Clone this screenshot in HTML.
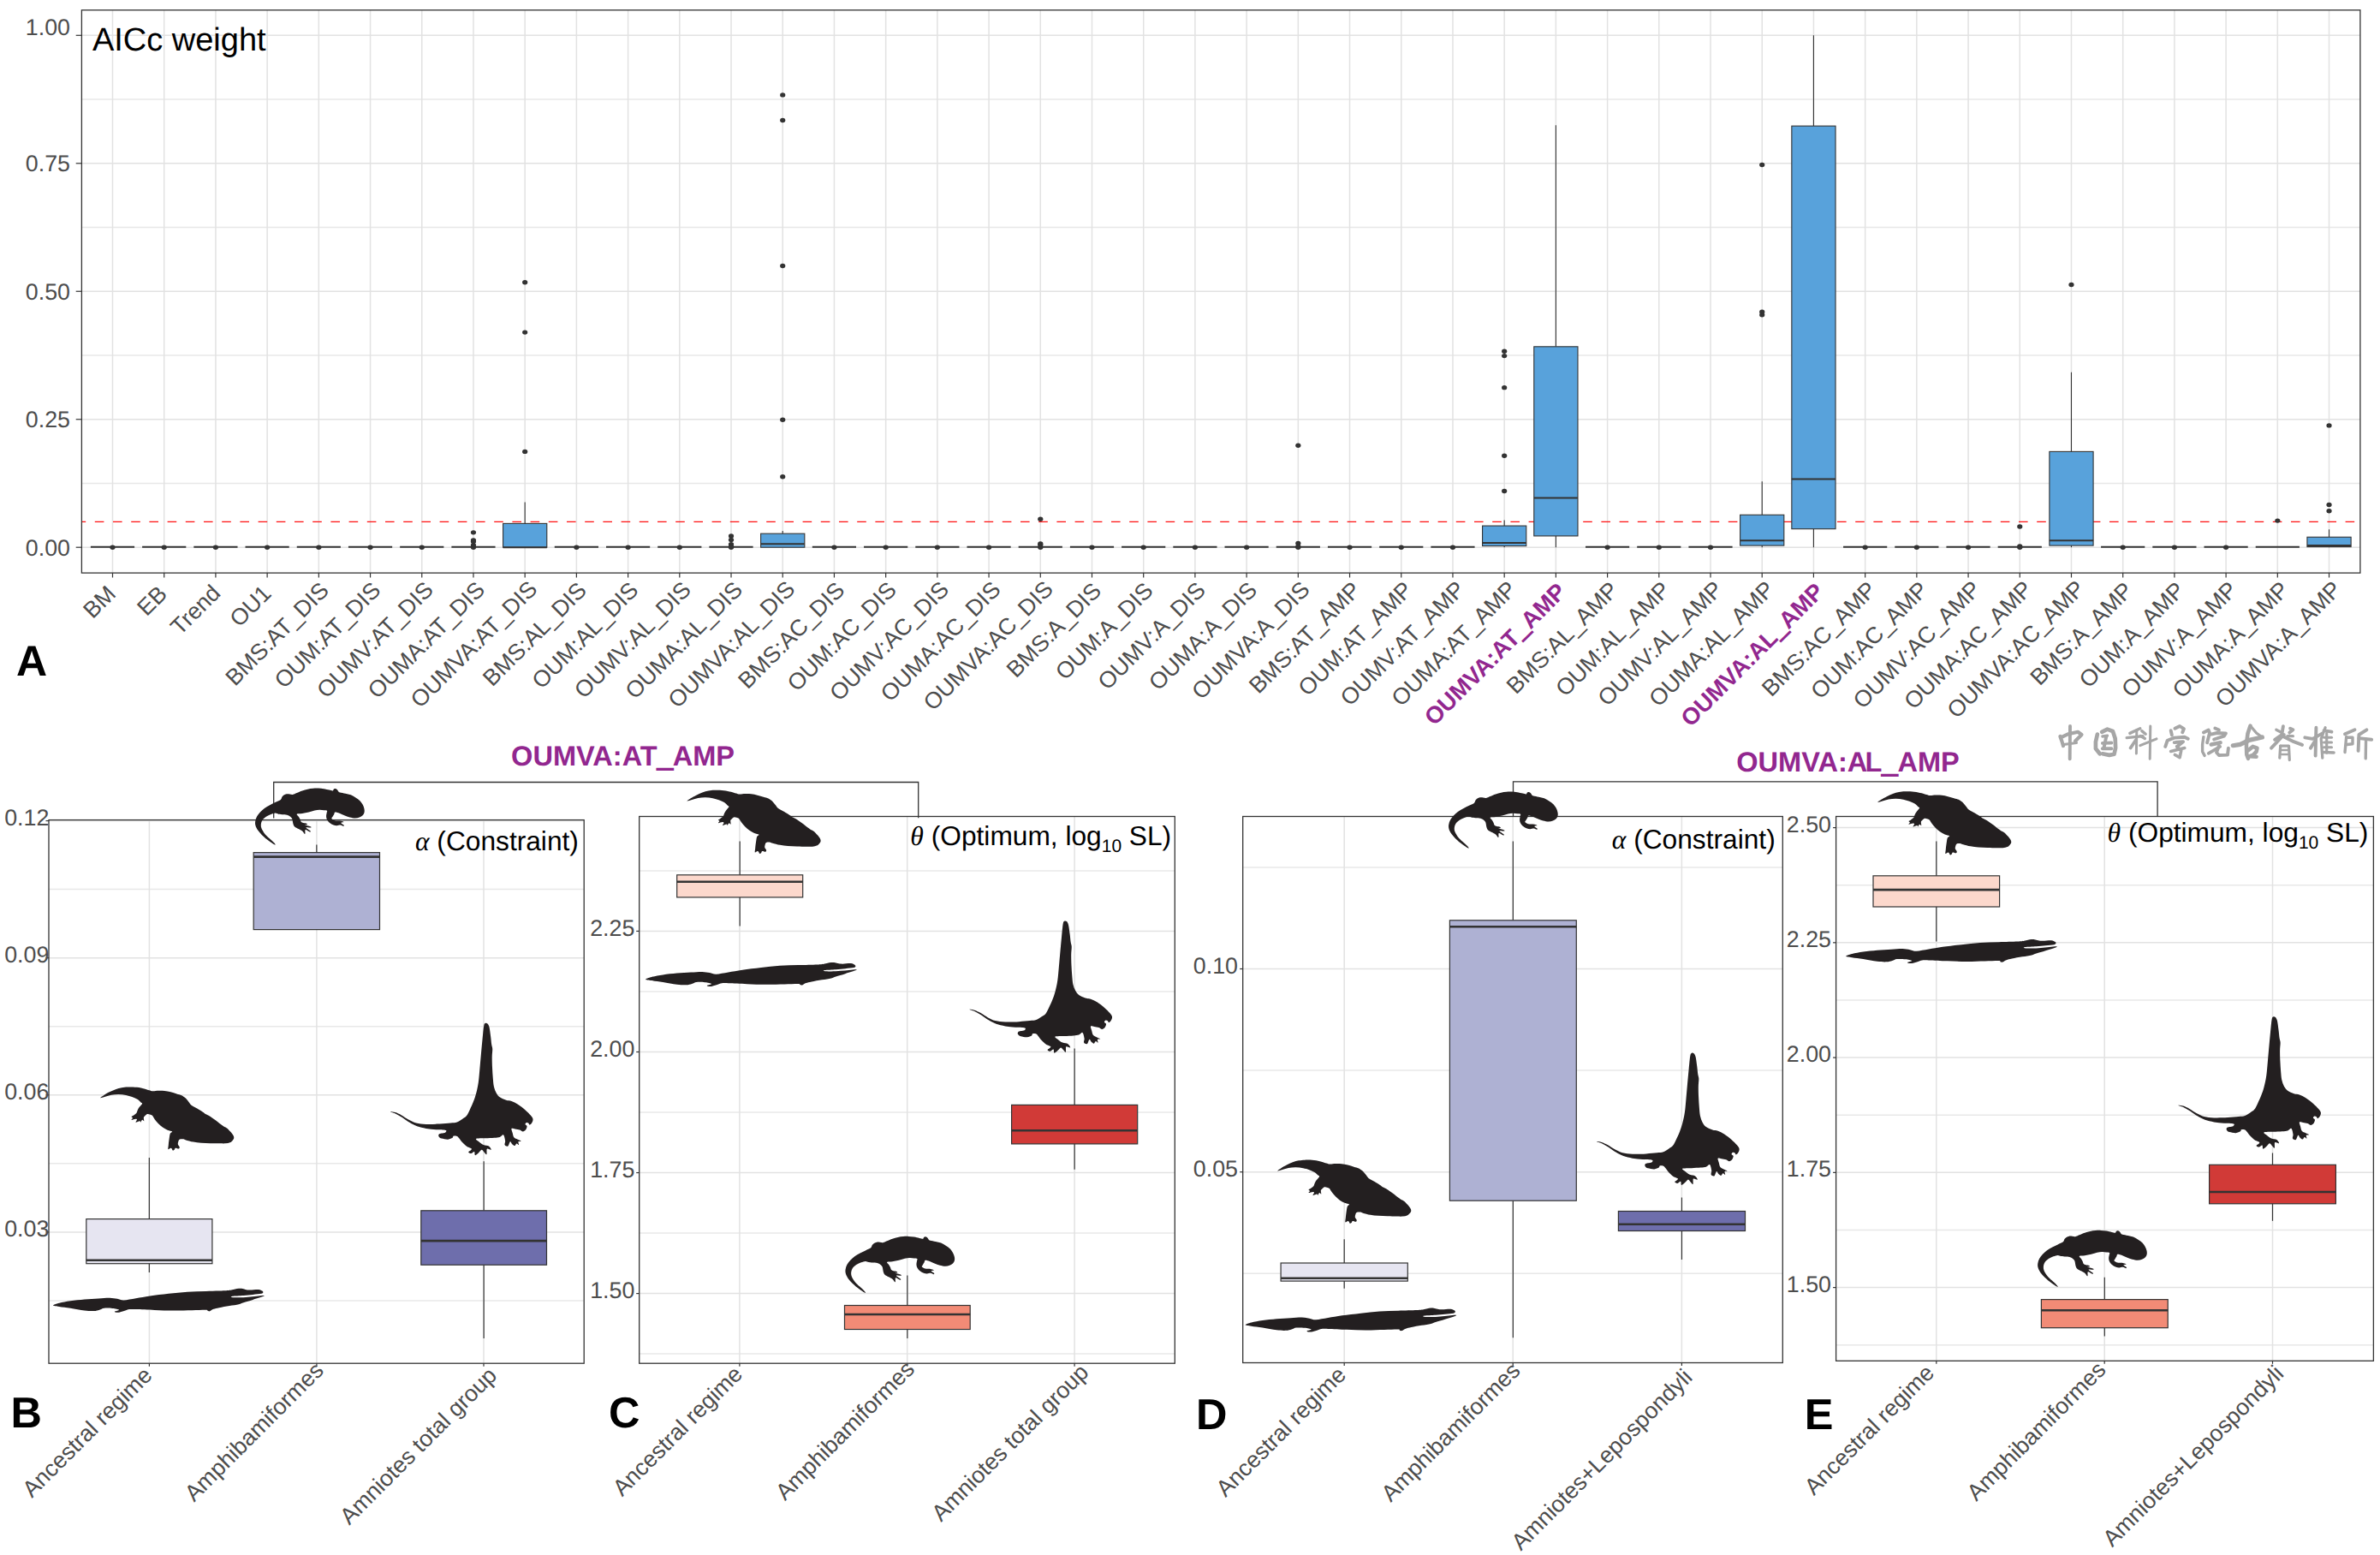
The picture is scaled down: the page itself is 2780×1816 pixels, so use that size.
<!DOCTYPE html><html><head><meta charset="utf-8"><style>html,body{margin:0;padding:0;background:#fff;overflow:hidden;}svg{display:block}text{text-rendering:geometricPrecision}</style></head><body>
<svg width="2780" height="1816" viewBox="0 0 2780 1816">
<defs><path id="sal" d="M22.68,66.17C21.84,65.75 19.85,64.44 18.27,63.34C16.69,62.24 15.01,61.03 13.23,59.56C11.44,58.09 9.24,56.2 7.56,54.51C5.88,52.83 4.35,51.26 3.14,49.47C1.94,47.69 0.83,45.59 0.31,43.8C-0.22,42.01 -0.27,40.54 -0.01,38.76C0.26,36.97 0.94,34.87 1.88,33.09C2.83,31.3 4.19,29.62 5.67,28.04C7.14,26.47 8.82,25 10.71,23.63C12.6,22.27 14.91,21.01 17.01,19.85C19.11,18.7 21.21,17.75 23.31,16.7C25.41,15.65 28.3,14.6 29.61,13.55C30.93,12.5 30.56,11.29 31.19,10.4C31.82,9.51 32.5,8.77 33.4,8.19C34.29,7.61 35.39,7.11 36.55,6.93C37.7,6.75 39.12,7.02 40.33,7.12C41.54,7.23 42.43,7.8 43.79,7.56C45.16,7.32 46.68,6.41 48.52,5.67C50.36,4.94 52.72,3.89 54.82,3.15C56.92,2.41 59.03,1.73 61.13,1.26C63.23,0.79 65.33,0.49 67.43,0.31C69.53,0.14 71.63,0.1 73.73,0.19C75.83,0.27 77.93,0.48 80.03,0.82C82.13,1.15 84.6,1.82 86.34,2.2C88.07,2.59 89.59,3.26 90.43,3.15C91.27,3.05 90.91,1.99 91.38,1.57C91.85,1.15 92.59,0.63 93.27,0.63C93.95,0.63 94.84,1.05 95.47,1.57C96.1,2.1 96.47,3.2 97.05,3.78C97.63,4.36 97.58,4.62 98.94,5.04C100.31,5.46 103.14,5.83 105.24,6.3C107.34,6.77 109.55,7.09 111.55,7.88C113.54,8.66 115.43,9.87 117.22,11.03C119,12.18 120.89,13.44 122.26,14.81C123.62,16.18 124.57,17.65 125.41,19.22C126.25,20.8 126.99,22.69 127.3,24.26C127.62,25.84 127.62,27.41 127.3,28.67C126.99,29.94 126.36,30.93 125.41,31.83C124.47,32.72 123.1,33.51 121.63,34.03C120.16,34.56 118.48,34.98 116.59,34.98C114.7,34.98 112.39,34.56 110.28,34.03C108.18,33.51 105.98,32.61 103.98,31.83C101.99,31.04 100.1,29.94 98.31,29.31C96.52,28.67 94.32,27.83 93.27,28.04C92.22,28.25 92.53,29.62 92.01,30.57C91.48,31.51 90.59,32.88 90.12,33.72C89.64,34.56 88.86,34.98 89.17,35.61C89.49,36.24 90.8,37.08 92.01,37.5C93.22,37.92 95.05,37.97 96.42,38.13C97.79,38.29 99.05,38.18 100.2,38.44C101.36,38.71 103.35,39.39 103.35,39.7C103.35,40.02 100.52,39.97 100.2,40.33C99.89,40.7 100.88,41.38 101.46,41.91C102.04,42.44 103.46,43.07 103.67,43.49C103.88,43.91 103.4,44.48 102.72,44.43C102.04,44.38 100.83,43.28 99.57,43.17C98.31,43.07 96.52,43.8 95.16,43.8C93.79,43.8 92.74,43.7 91.38,43.17C90.01,42.65 88.23,41.7 86.97,40.65C85.71,39.6 84.5,38.13 83.81,36.87C83.13,35.61 82.92,34.45 82.87,33.09C82.82,31.72 83.34,29.78 83.5,28.67C83.66,27.57 84.39,26.94 83.81,26.47C83.24,26 81.5,26.02 80.03,25.84C78.56,25.66 76.78,25.35 74.99,25.4C73.21,25.45 71.42,25.71 69.32,26.15C67.22,26.6 64.8,27.47 62.39,28.04C59.97,28.62 57.13,29.25 54.82,29.62C52.51,29.99 49.26,29.67 48.52,30.25C47.79,30.83 49.78,32.09 50.41,33.09C51.04,34.08 51.78,35.19 52.3,36.24C52.83,37.29 52.93,38.65 53.56,39.39C54.19,40.12 55.03,40.33 56.08,40.65C57.13,40.96 59.13,40.96 59.87,41.28C60.6,41.59 60.81,42.22 60.5,42.54C60.18,42.86 57.34,42.8 57.98,43.17C58.61,43.54 63.12,44.27 64.28,44.75C65.43,45.22 65.75,45.8 64.91,46.01C64.07,46.22 59.34,45.38 59.24,46.01C59.13,46.64 63.54,48.95 64.28,49.79C65.01,50.63 64.59,51.26 63.65,51.05C62.7,50.84 59.5,48.21 58.61,48.53C57.71,48.84 58.5,52.15 58.29,52.94C58.08,53.73 57.92,53.73 57.34,53.25C56.77,52.78 55.98,51.05 54.82,50.1C53.67,49.16 51.88,48.42 50.41,47.58C48.94,46.74 47.05,46.11 46,45.06C44.95,44.01 44.53,42.54 44.11,41.28C43.69,40.02 43.79,38.6 43.48,37.5C43.16,36.4 43.06,35.61 42.22,34.66C41.38,33.72 40.01,32.46 38.44,31.83C36.86,31.2 34.66,31.14 32.77,30.88C30.87,30.62 28.67,30.53 27.09,30.25C25.52,29.97 24.78,29.13 23.31,29.18C21.84,29.23 20.06,29.86 18.27,30.57C16.48,31.27 14.28,32.25 12.6,33.4C10.92,34.56 9.18,35.98 8.19,37.5C7.19,39.02 6.77,40.96 6.61,42.54C6.45,44.12 6.66,45.38 7.24,46.95C7.82,48.53 8.97,50.42 10.08,51.99C11.18,53.57 12.39,54.93 13.86,56.41C15.33,57.88 17.53,59.56 18.9,60.82C20.27,62.08 21.32,63.13 22.05,63.97C22.79,64.81 23.21,65.49 23.31,65.86C23.42,66.23 23.52,66.59 22.68,66.17Z"/><path id="tem" d="M0.04,12.54C-0.2,12.25 2.54,10.46 4.33,9.33C6.11,8.2 8.5,6.89 10.76,5.76C13.02,4.63 15.52,3.41 17.9,2.54C20.28,1.67 22.66,1 25.04,0.54C27.42,0.09 29.21,-0.12 32.19,-0.17C35.16,-0.22 39.69,-0.08 42.9,0.26C46.11,0.59 49.09,1.27 51.47,1.83C53.85,2.39 55.52,3.14 57.19,3.61C58.85,4.09 59.69,4.6 61.47,4.69C63.26,4.77 65.64,4.17 67.9,4.11C70.16,4.05 72.66,4.05 75.04,4.33C77.42,4.6 79.8,5.16 82.19,5.76C84.57,6.35 87.19,7.25 89.33,7.9C91.47,8.55 93.26,8.79 95.04,9.69C96.83,10.58 98.61,11.95 100.04,13.26C101.47,14.57 102.54,16.23 103.61,17.54C104.69,18.85 105.28,20.1 106.47,21.11C107.66,22.13 109.09,22.66 110.76,23.61C112.42,24.57 114.8,25.82 116.47,26.83C118.14,27.84 119.69,28.91 120.76,29.69C121.83,30.46 121.59,30.7 122.9,31.47C124.21,32.25 126.59,33.08 128.61,34.33C130.64,35.58 132.9,37.36 135.04,38.97C137.19,40.58 139.8,42.72 141.47,43.97C143.14,45.22 143.97,45.82 145.04,46.47C146.11,47.13 146.71,46.95 147.9,47.9C149.09,48.85 150.94,50.76 152.19,52.19C153.44,53.61 154.75,55.22 155.4,56.47C156.05,57.72 156.29,58.67 156.11,59.69C155.94,60.7 155.1,61.71 154.33,62.54C153.55,63.38 152.78,64.15 151.47,64.69C150.16,65.22 148.5,65.58 146.47,65.76C144.45,65.94 142.3,65.79 139.33,65.76C136.35,65.72 132.19,65.66 128.61,65.54C125.04,65.42 121.23,65.3 117.9,65.04C114.57,64.78 111.59,64.51 108.61,63.97C105.64,63.44 101.95,62.36 100.04,61.83C98.14,61.29 98.44,60.88 97.19,60.76C95.94,60.64 93.55,60.58 92.54,61.11C91.53,61.65 91.41,63.02 91.11,63.97C90.82,64.92 90.52,65.88 90.76,66.83C91,67.78 92.36,68.85 92.54,69.69C92.72,70.52 92.6,71.59 91.83,71.83C91.05,72.07 88.79,70.88 87.9,71.11C87.01,71.35 87.01,72.78 86.47,73.26C85.94,73.73 85.16,74.21 84.69,73.97C84.21,73.73 84.03,72.3 83.61,71.83C83.2,71.35 82.9,71 82.19,71.11C81.47,71.23 79.75,73.14 79.33,72.54C78.91,71.95 79.45,69.8 79.69,67.54C79.92,65.28 80.4,61.23 80.76,58.97C81.11,56.71 81.29,55.16 81.83,53.97C82.36,52.78 84.51,52.48 83.97,51.83C83.44,51.17 80.46,50.88 78.61,50.04C76.77,49.21 74.69,48.08 72.9,46.83C71.11,45.58 69.45,44.09 67.9,42.54C66.35,41 64.8,39.09 63.61,37.54C62.42,36 61.71,34.21 60.76,33.26C59.8,32.3 58.85,32.13 57.9,31.83C56.95,31.53 56,31.17 55.04,31.47C54.09,31.77 52.9,32.96 52.19,33.61C51.47,34.27 50.94,34.39 50.76,35.4C50.58,36.41 51.35,39.21 51.11,39.69C50.88,40.16 49.86,38.26 49.33,38.26C48.79,38.26 48.26,39.21 47.9,39.69C47.54,40.16 47.48,41.11 47.19,41.11C46.89,41.11 47.07,39.69 46.11,39.69C45.16,39.69 42.01,41.35 41.47,41.11C40.94,40.88 42.9,38.91 42.9,38.26C42.9,37.6 42.54,37.19 41.47,37.19C40.4,37.19 37.07,38.44 36.47,38.26C35.88,38.08 37.9,36.71 37.9,36.11C37.9,35.52 36.35,35.16 36.47,34.69C36.59,34.21 37.66,33.97 38.61,33.26C39.57,32.54 41.35,31.47 42.19,30.4C43.02,29.33 43.02,28.02 43.61,26.83C44.21,25.64 44.86,24.51 45.76,23.26C46.65,22.01 48.73,20.28 48.97,19.33C49.21,18.38 48.2,18.44 47.19,17.54C46.17,16.65 44.57,14.98 42.9,13.97C41.23,12.96 39.33,12.25 37.19,11.47C35.04,10.7 32.66,9.84 30.04,9.33C27.42,8.82 24.33,8.44 21.47,8.4C18.61,8.36 15.52,8.66 12.9,9.11C10.28,9.57 7.9,10.54 5.76,11.11C3.61,11.69 0.28,12.84 0.04,12.54Z"/><path id="eel" d="M0,19.9C0,19.2 3.73,18.04 7.1,17.16C10.47,16.29 15.29,15.38 20.21,14.65C25.13,13.92 31.13,13.27 36.6,12.79C42.06,12.32 48.07,12.08 52.98,11.81C57.9,11.54 62.45,11.08 66.09,11.16C69.73,11.23 72.1,11.79 74.83,12.25C77.56,12.7 78.84,13.98 82.48,13.89C86.12,13.8 91.58,12.52 96.68,11.7C101.78,10.88 106.69,9.88 113.07,8.97C119.44,8.06 127.63,7.06 134.91,6.24C142.2,5.42 149.48,4.55 156.76,4.06C164.05,3.56 171.33,3.53 178.61,3.29C185.89,3.05 195.54,2.87 200.46,2.64C205.38,2.4 205.74,2.23 208.11,1.87C210.47,1.51 212.66,0.72 214.66,0.45C216.66,0.18 218.48,0.09 220.12,0.23C221.76,0.38 222.85,1.05 224.49,1.32C226.13,1.6 227.41,1.87 229.95,1.87C232.5,1.87 237.42,1.14 239.79,1.32C242.15,1.51 243.25,2.42 244.16,2.96C245.07,3.51 245.43,4.06 245.25,4.6C245.07,5.15 245.07,5.78 243.06,6.24C241.06,6.7 236.69,6.97 233.23,7.33C229.77,7.7 226.31,8.12 222.31,8.42C218.3,8.73 211.47,8.88 209.2,9.19C206.92,9.5 207.38,10.03 208.65,10.28C209.93,10.54 213.66,10.76 216.85,10.72C220.03,10.68 224.31,10.32 227.77,10.06C231.23,9.81 234.65,9.46 237.6,9.19C240.55,8.92 244.19,8.37 245.47,8.42C246.74,8.48 247.29,8.7 245.25,9.52C243.21,10.34 237.06,12.16 233.23,13.34C229.41,14.52 225.04,15.74 222.31,16.62C219.58,17.49 219.58,17.95 216.85,18.58C214.11,19.22 209.75,19.77 205.92,20.44C202.1,21.12 197,21.99 193.91,22.63C190.81,23.26 189.17,23.59 187.35,24.26C185.53,24.94 184.16,26.34 182.98,26.67C181.8,27 180.98,26.49 180.25,26.23C179.52,25.98 181.62,25.25 178.61,25.14C175.61,25.03 168.6,25.43 162.22,25.58C155.85,25.72 147.66,26.05 140.38,26.01C133.09,25.98 125.81,25.61 118.53,25.36C111.25,25.1 101.6,24.63 96.68,24.48C91.76,24.34 91.22,24.19 89.03,24.48C86.85,24.77 85.57,25.63 83.57,26.23C81.57,26.83 78.84,27.82 77.02,28.09C75.2,28.36 73.47,28.05 72.65,27.87C71.83,27.69 71.37,27.45 72.1,27C72.83,26.54 77.47,25.74 77.02,25.14C76.56,24.54 72.28,23.72 69.37,23.39C66.46,23.06 62.09,22.88 59.54,23.17C56.99,23.46 56.08,24.59 54.08,25.14C52.07,25.69 50.43,26.32 47.52,26.45C44.61,26.58 41.15,26.45 36.6,25.9C32.05,25.36 25.13,23.94 20.21,23.17C15.29,22.41 10.47,21.86 7.1,21.32C3.73,20.77 0,20.59 0,19.9Z"/><path id="dim" d="M0.04,103.46C-0.14,103.16 3.66,103.6 5.87,104.31C8.09,105.01 10.65,106.25 13.3,107.7C15.96,109.15 18.96,111.51 21.79,113.01C24.63,114.51 26.92,115.88 30.29,116.72C33.65,117.57 37.36,117.93 41.96,118.1C46.56,118.28 53.1,118.02 57.88,117.79C62.66,117.56 67.26,117.08 70.62,116.72C73.98,116.37 75.75,116.46 78.05,115.66C80.35,114.87 82.56,113.19 84.41,111.95C86.27,110.71 87.78,110 89.19,108.23C90.61,106.46 91.58,104.08 92.91,101.33C94.23,98.59 95.91,94.97 97.15,91.78C98.39,88.6 99.36,85.95 100.33,82.23C101.31,78.52 102.28,74.27 102.99,69.49C103.7,64.72 104.05,59.23 104.58,53.57C105.11,47.91 105.64,41.37 106.17,35.53C106.7,29.69 107.23,23.86 107.76,18.55C108.29,13.24 108.83,6.73 109.36,3.69C109.89,0.65 110.24,0.79 110.95,0.29C111.66,-0.2 112.81,-0.02 113.6,0.72C114.4,1.46 115.1,2.31 115.72,4.75C116.34,7.19 116.87,12 117.32,15.37C117.76,18.73 118.02,22.44 118.38,24.92C118.73,27.39 119.35,27.75 119.44,30.22C119.53,32.7 118.94,36.06 118.91,39.78C118.87,43.49 119.05,48.44 119.23,52.51C119.4,56.58 119.67,60.65 119.97,64.19C120.27,67.73 120.41,70.91 121.03,73.74C121.65,76.57 122.53,79.05 123.68,81.17C124.83,83.29 125.98,85.01 127.93,86.48C129.88,87.94 133.06,89.18 135.36,89.98C137.66,90.77 139.43,90.42 141.73,91.25C144.03,92.08 146.5,93.29 149.16,94.97C151.81,96.65 155.17,99.21 157.65,101.33C160.12,103.46 162.51,105.93 164.02,107.7C165.52,109.47 166.4,110.53 166.67,111.95C166.93,113.36 166.23,115.04 165.61,116.19C164.99,117.34 163.66,118.76 162.95,118.85C162.25,118.94 161.98,117.17 161.36,116.72C160.74,116.28 159.86,115.93 159.24,116.19C158.62,116.46 157.56,117.61 157.65,118.32C157.74,119.02 159.68,119.38 159.77,120.44C159.86,121.5 158.97,123.66 158.18,124.68C157.38,125.71 156.14,126.59 154.99,126.59C153.84,126.59 152.78,125.18 151.28,124.68C149.78,124.19 147.56,123.89 145.97,123.62C144.38,123.36 142.26,122.38 141.73,123.09C141.2,123.8 142.35,126.19 142.79,127.87C143.23,129.55 143.58,131.94 144.38,133.17C145.18,134.41 146.15,134.5 147.56,135.3C148.98,136.09 152.52,137.42 152.87,137.95C153.22,138.48 150.13,137.77 149.69,138.48C149.24,139.19 150.57,141.84 150.22,142.2C149.86,142.55 148.36,140.43 147.56,140.6C146.77,140.78 146.33,143.17 145.44,143.26C144.56,143.35 143.14,141.93 142.26,141.14C141.37,140.34 140.93,138.04 140.14,138.48C139.34,138.92 138.54,143.17 137.48,143.79C136.42,144.41 134.3,143.26 133.77,142.2C133.24,141.14 134.56,139.37 134.3,137.42C134.03,135.47 133.24,131.23 132.17,130.52C131.11,129.81 129.7,132.59 127.93,133.17C126.16,133.76 124.39,133.79 121.56,134.02C118.73,134.25 114.49,134.38 110.95,134.55C107.41,134.73 101.57,134.43 100.33,135.09C99.1,135.74 102.1,137.3 103.52,138.48C104.93,139.67 106.88,141.31 108.83,142.2C110.77,143.08 113.69,142.82 115.19,143.79C116.7,144.76 118.2,147.5 117.85,148.03C117.49,148.56 113.96,146.09 113.07,146.97C112.19,147.86 113.16,152.77 112.54,153.34C111.92,153.91 110.33,151.25 109.36,150.37C108.38,149.48 107.68,147.89 106.7,148.03C105.73,148.18 104.76,150.16 103.52,151.22C102.28,152.28 100.16,154.58 99.27,154.4C98.39,154.22 99.01,150.51 98.21,150.16C97.42,149.8 95.65,152.19 94.5,152.28C93.35,152.37 91.22,151.57 91.31,150.69C91.4,149.8 95.29,148.03 95.03,146.97C94.76,145.91 91.49,145.56 89.72,144.32C87.95,143.08 86.01,141.22 84.41,139.54C82.82,137.86 81.23,135.47 80.17,134.24C79.11,133 79.11,132.5 78.05,132.11C76.98,131.72 74.69,131.58 73.8,131.9C72.92,132.22 73.8,133.37 72.74,134.02C71.68,134.68 69.56,135.7 67.43,135.83C65.31,135.95 61.77,135.3 60,134.77C58.23,134.24 57.35,133.44 56.82,132.64C56.29,131.85 56.29,130.65 56.82,129.99C57.35,129.34 58.77,129.07 60,128.72C61.24,128.36 63.45,128.45 64.25,127.87C65.04,127.28 66.55,125.78 64.78,125.21C63.01,124.65 57.44,124.83 53.64,124.47C49.83,124.12 45.68,123.76 41.96,123.09C38.25,122.42 34.53,121.59 31.35,120.44C28.16,119.29 25.69,117.87 22.86,116.19C20.03,114.51 17.02,112.04 14.37,110.36C11.71,108.68 9.32,107.26 6.94,106.11C4.55,104.96 0.21,103.76 0.04,103.46Z"/></defs>
<rect x="0" y="0" width="2780" height="1816" fill="#ffffff"/>
<clipPath id="tpc"><rect x="95.4" y="11.8" width="2661.5" height="657.3"/></clipPath>
<g clip-path="url(#tpc)">
<line x1="95.4" y1="564.46" x2="2756.9" y2="564.46" stroke="#e8e8e8" stroke-width="1.5"/>
<line x1="95.4" y1="414.99" x2="2756.9" y2="414.99" stroke="#e8e8e8" stroke-width="1.5"/>
<line x1="95.4" y1="265.51" x2="2756.9" y2="265.51" stroke="#e8e8e8" stroke-width="1.5"/>
<line x1="95.4" y1="116.04" x2="2756.9" y2="116.04" stroke="#e8e8e8" stroke-width="1.5"/>
<line x1="95.4" y1="639.2" x2="2756.9" y2="639.2" stroke="#e2e2e2" stroke-width="1.5"/>
<line x1="95.4" y1="489.73" x2="2756.9" y2="489.73" stroke="#e2e2e2" stroke-width="1.5"/>
<line x1="95.4" y1="340.25" x2="2756.9" y2="340.25" stroke="#e2e2e2" stroke-width="1.5"/>
<line x1="95.4" y1="190.78" x2="2756.9" y2="190.78" stroke="#e2e2e2" stroke-width="1.5"/>
<line x1="95.4" y1="41.3" x2="2756.9" y2="41.3" stroke="#e2e2e2" stroke-width="1.5"/>
<line x1="131.5" y1="11.8" x2="131.5" y2="669.1" stroke="#e2e2e2" stroke-width="1.5"/>
<line x1="191.71" y1="11.8" x2="191.71" y2="669.1" stroke="#e2e2e2" stroke-width="1.5"/>
<line x1="251.92" y1="11.8" x2="251.92" y2="669.1" stroke="#e2e2e2" stroke-width="1.5"/>
<line x1="312.13" y1="11.8" x2="312.13" y2="669.1" stroke="#e2e2e2" stroke-width="1.5"/>
<line x1="372.34" y1="11.8" x2="372.34" y2="669.1" stroke="#e2e2e2" stroke-width="1.5"/>
<line x1="432.55" y1="11.8" x2="432.55" y2="669.1" stroke="#e2e2e2" stroke-width="1.5"/>
<line x1="492.76" y1="11.8" x2="492.76" y2="669.1" stroke="#e2e2e2" stroke-width="1.5"/>
<line x1="552.97" y1="11.8" x2="552.97" y2="669.1" stroke="#e2e2e2" stroke-width="1.5"/>
<line x1="613.18" y1="11.8" x2="613.18" y2="669.1" stroke="#e2e2e2" stroke-width="1.5"/>
<line x1="673.39" y1="11.8" x2="673.39" y2="669.1" stroke="#e2e2e2" stroke-width="1.5"/>
<line x1="733.6" y1="11.8" x2="733.6" y2="669.1" stroke="#e2e2e2" stroke-width="1.5"/>
<line x1="793.81" y1="11.8" x2="793.81" y2="669.1" stroke="#e2e2e2" stroke-width="1.5"/>
<line x1="854.02" y1="11.8" x2="854.02" y2="669.1" stroke="#e2e2e2" stroke-width="1.5"/>
<line x1="914.23" y1="11.8" x2="914.23" y2="669.1" stroke="#e2e2e2" stroke-width="1.5"/>
<line x1="974.44" y1="11.8" x2="974.44" y2="669.1" stroke="#e2e2e2" stroke-width="1.5"/>
<line x1="1034.65" y1="11.8" x2="1034.65" y2="669.1" stroke="#e2e2e2" stroke-width="1.5"/>
<line x1="1094.86" y1="11.8" x2="1094.86" y2="669.1" stroke="#e2e2e2" stroke-width="1.5"/>
<line x1="1155.07" y1="11.8" x2="1155.07" y2="669.1" stroke="#e2e2e2" stroke-width="1.5"/>
<line x1="1215.28" y1="11.8" x2="1215.28" y2="669.1" stroke="#e2e2e2" stroke-width="1.5"/>
<line x1="1275.49" y1="11.8" x2="1275.49" y2="669.1" stroke="#e2e2e2" stroke-width="1.5"/>
<line x1="1335.7" y1="11.8" x2="1335.7" y2="669.1" stroke="#e2e2e2" stroke-width="1.5"/>
<line x1="1395.91" y1="11.8" x2="1395.91" y2="669.1" stroke="#e2e2e2" stroke-width="1.5"/>
<line x1="1456.12" y1="11.8" x2="1456.12" y2="669.1" stroke="#e2e2e2" stroke-width="1.5"/>
<line x1="1516.33" y1="11.8" x2="1516.33" y2="669.1" stroke="#e2e2e2" stroke-width="1.5"/>
<line x1="1576.54" y1="11.8" x2="1576.54" y2="669.1" stroke="#e2e2e2" stroke-width="1.5"/>
<line x1="1636.75" y1="11.8" x2="1636.75" y2="669.1" stroke="#e2e2e2" stroke-width="1.5"/>
<line x1="1696.96" y1="11.8" x2="1696.96" y2="669.1" stroke="#e2e2e2" stroke-width="1.5"/>
<line x1="1757.17" y1="11.8" x2="1757.17" y2="669.1" stroke="#e2e2e2" stroke-width="1.5"/>
<line x1="1817.38" y1="11.8" x2="1817.38" y2="669.1" stroke="#e2e2e2" stroke-width="1.5"/>
<line x1="1877.59" y1="11.8" x2="1877.59" y2="669.1" stroke="#e2e2e2" stroke-width="1.5"/>
<line x1="1937.8" y1="11.8" x2="1937.8" y2="669.1" stroke="#e2e2e2" stroke-width="1.5"/>
<line x1="1998.01" y1="11.8" x2="1998.01" y2="669.1" stroke="#e2e2e2" stroke-width="1.5"/>
<line x1="2058.22" y1="11.8" x2="2058.22" y2="669.1" stroke="#e2e2e2" stroke-width="1.5"/>
<line x1="2118.43" y1="11.8" x2="2118.43" y2="669.1" stroke="#e2e2e2" stroke-width="1.5"/>
<line x1="2178.64" y1="11.8" x2="2178.64" y2="669.1" stroke="#e2e2e2" stroke-width="1.5"/>
<line x1="2238.85" y1="11.8" x2="2238.85" y2="669.1" stroke="#e2e2e2" stroke-width="1.5"/>
<line x1="2299.06" y1="11.8" x2="2299.06" y2="669.1" stroke="#e2e2e2" stroke-width="1.5"/>
<line x1="2359.27" y1="11.8" x2="2359.27" y2="669.1" stroke="#e2e2e2" stroke-width="1.5"/>
<line x1="2419.48" y1="11.8" x2="2419.48" y2="669.1" stroke="#e2e2e2" stroke-width="1.5"/>
<line x1="2479.69" y1="11.8" x2="2479.69" y2="669.1" stroke="#e2e2e2" stroke-width="1.5"/>
<line x1="2539.9" y1="11.8" x2="2539.9" y2="669.1" stroke="#e2e2e2" stroke-width="1.5"/>
<line x1="2600.11" y1="11.8" x2="2600.11" y2="669.1" stroke="#e2e2e2" stroke-width="1.5"/>
<line x1="2660.32" y1="11.8" x2="2660.32" y2="669.1" stroke="#e2e2e2" stroke-width="1.5"/>
<line x1="2720.53" y1="11.8" x2="2720.53" y2="669.1" stroke="#e2e2e2" stroke-width="1.5"/>
<line x1="89.6" y1="609.31" x2="2756.9" y2="609.31" stroke="#ff1010" stroke-width="1.3" stroke-dasharray="10.6 10.6"/>
<line x1="105.9" y1="638.72" x2="157.1" y2="638.72" stroke="#333333" stroke-width="2"/>
<line x1="166.11" y1="638.72" x2="217.31" y2="638.72" stroke="#333333" stroke-width="2"/>
<line x1="226.32" y1="638.72" x2="277.52" y2="638.72" stroke="#333333" stroke-width="2"/>
<line x1="286.53" y1="638.72" x2="337.73" y2="638.72" stroke="#333333" stroke-width="2"/>
<line x1="346.74" y1="638.72" x2="397.94" y2="638.72" stroke="#333333" stroke-width="2"/>
<line x1="406.95" y1="638.72" x2="458.15" y2="638.72" stroke="#333333" stroke-width="2"/>
<line x1="467.16" y1="638.72" x2="518.36" y2="638.72" stroke="#333333" stroke-width="2"/>
<line x1="527.37" y1="638.72" x2="578.57" y2="638.72" stroke="#333333" stroke-width="2"/>
<line x1="613.18" y1="586.58" x2="613.18" y2="611.4" stroke="#333333" stroke-width="1.1"/>
<rect x="587.58" y="611.4" width="51.2" height="27.8" fill="#58a2db" stroke="#333333" stroke-width="1.1"/>
<line x1="587.58" y1="639.2" x2="638.78" y2="639.2" stroke="#333333" stroke-width="2"/>
<line x1="647.79" y1="638.72" x2="698.99" y2="638.72" stroke="#333333" stroke-width="2"/>
<line x1="708" y1="638.72" x2="759.2" y2="638.72" stroke="#333333" stroke-width="2"/>
<line x1="768.21" y1="638.72" x2="819.41" y2="638.72" stroke="#333333" stroke-width="2"/>
<line x1="828.42" y1="638.72" x2="879.62" y2="638.72" stroke="#333333" stroke-width="2"/>
<line x1="914.23" y1="620.07" x2="914.23" y2="623.18" stroke="#333333" stroke-width="1.1"/>
<rect x="888.63" y="623.18" width="51.2" height="16.02" fill="#58a2db" stroke="#333333" stroke-width="1.1"/>
<line x1="888.63" y1="635.37" x2="939.83" y2="635.37" stroke="#333333" stroke-width="2"/>
<line x1="948.84" y1="638.72" x2="1000.04" y2="638.72" stroke="#333333" stroke-width="2"/>
<line x1="1009.05" y1="638.72" x2="1060.25" y2="638.72" stroke="#333333" stroke-width="2"/>
<line x1="1069.26" y1="638.72" x2="1120.46" y2="638.72" stroke="#333333" stroke-width="2"/>
<line x1="1129.47" y1="638.72" x2="1180.67" y2="638.72" stroke="#333333" stroke-width="2"/>
<line x1="1189.68" y1="638.72" x2="1240.88" y2="638.72" stroke="#333333" stroke-width="2"/>
<line x1="1249.89" y1="638.72" x2="1301.09" y2="638.72" stroke="#333333" stroke-width="2"/>
<line x1="1310.1" y1="638.72" x2="1361.3" y2="638.72" stroke="#333333" stroke-width="2"/>
<line x1="1370.31" y1="638.72" x2="1421.51" y2="638.72" stroke="#333333" stroke-width="2"/>
<line x1="1430.52" y1="638.72" x2="1481.72" y2="638.72" stroke="#333333" stroke-width="2"/>
<line x1="1490.73" y1="638.72" x2="1541.93" y2="638.72" stroke="#333333" stroke-width="2"/>
<line x1="1550.94" y1="638.72" x2="1602.14" y2="638.72" stroke="#333333" stroke-width="2"/>
<line x1="1611.15" y1="638.72" x2="1662.35" y2="638.72" stroke="#333333" stroke-width="2"/>
<line x1="1671.36" y1="638.72" x2="1722.56" y2="638.72" stroke="#333333" stroke-width="2"/>
<line x1="1757.17" y1="607.51" x2="1757.17" y2="614.09" stroke="#333333" stroke-width="1.1"/>
<line x1="1757.17" y1="637.59" x2="1757.17" y2="639.2" stroke="#333333" stroke-width="1.1"/>
<rect x="1731.57" y="614.09" width="51.2" height="23.5" fill="#58a2db" stroke="#333333" stroke-width="1.1"/>
<line x1="1731.57" y1="634" x2="1782.77" y2="634" stroke="#333333" stroke-width="2"/>
<line x1="1817.38" y1="146.17" x2="1817.38" y2="404.82" stroke="#333333" stroke-width="1.1"/>
<line x1="1817.38" y1="625.93" x2="1817.38" y2="639.2" stroke="#333333" stroke-width="1.1"/>
<rect x="1791.78" y="404.82" width="51.2" height="221.1" fill="#58a2db" stroke="#333333" stroke-width="1.1"/>
<line x1="1791.78" y1="581.44" x2="1842.98" y2="581.44" stroke="#333333" stroke-width="2"/>
<line x1="1851.99" y1="638.72" x2="1903.19" y2="638.72" stroke="#333333" stroke-width="2"/>
<line x1="1912.2" y1="638.72" x2="1963.4" y2="638.72" stroke="#333333" stroke-width="2"/>
<line x1="1972.41" y1="638.72" x2="2023.61" y2="638.72" stroke="#333333" stroke-width="2"/>
<line x1="2058.22" y1="562.31" x2="2058.22" y2="601.29" stroke="#333333" stroke-width="1.1"/>
<line x1="2058.22" y1="637.11" x2="2058.22" y2="639.2" stroke="#333333" stroke-width="1.1"/>
<rect x="2032.62" y="601.29" width="51.2" height="35.81" fill="#58a2db" stroke="#333333" stroke-width="1.1"/>
<line x1="2032.62" y1="631.19" x2="2083.82" y2="631.19" stroke="#333333" stroke-width="2"/>
<line x1="2118.43" y1="41.3" x2="2118.43" y2="147.13" stroke="#333333" stroke-width="1.1"/>
<line x1="2118.43" y1="617.68" x2="2118.43" y2="639.2" stroke="#333333" stroke-width="1.1"/>
<rect x="2092.83" y="147.13" width="51.2" height="470.55" fill="#58a2db" stroke="#333333" stroke-width="1.1"/>
<line x1="2092.83" y1="559.5" x2="2144.03" y2="559.5" stroke="#333333" stroke-width="2"/>
<line x1="2153.04" y1="638.72" x2="2204.24" y2="638.72" stroke="#333333" stroke-width="2"/>
<line x1="2213.25" y1="638.72" x2="2264.45" y2="638.72" stroke="#333333" stroke-width="2"/>
<line x1="2273.46" y1="638.72" x2="2324.66" y2="638.72" stroke="#333333" stroke-width="2"/>
<line x1="2333.67" y1="638.72" x2="2384.87" y2="638.72" stroke="#333333" stroke-width="2"/>
<line x1="2419.48" y1="434.72" x2="2419.48" y2="527.39" stroke="#333333" stroke-width="1.1"/>
<line x1="2419.48" y1="637.11" x2="2419.48" y2="639.2" stroke="#333333" stroke-width="1.1"/>
<rect x="2393.88" y="527.39" width="51.2" height="109.71" fill="#58a2db" stroke="#333333" stroke-width="1.1"/>
<line x1="2393.88" y1="631.19" x2="2445.08" y2="631.19" stroke="#333333" stroke-width="2"/>
<line x1="2454.09" y1="638.72" x2="2505.29" y2="638.72" stroke="#333333" stroke-width="2"/>
<line x1="2514.3" y1="638.72" x2="2565.5" y2="638.72" stroke="#333333" stroke-width="2"/>
<line x1="2574.51" y1="638.72" x2="2625.71" y2="638.72" stroke="#333333" stroke-width="2"/>
<line x1="2634.72" y1="638.72" x2="2685.92" y2="638.72" stroke="#333333" stroke-width="2"/>
<line x1="2720.53" y1="618.27" x2="2720.53" y2="627.24" stroke="#333333" stroke-width="1.1"/>
<line x1="2720.53" y1="638.6" x2="2720.53" y2="639.2" stroke="#333333" stroke-width="1.1"/>
<rect x="2694.93" y="627.24" width="51.2" height="11.36" fill="#58a2db" stroke="#333333" stroke-width="1.1"/>
<line x1="2694.93" y1="637.11" x2="2746.13" y2="637.11" stroke="#333333" stroke-width="2"/>
<ellipse cx="131.5" cy="639.2" rx="3.1" ry="2.7" fill="#333333"/>
<ellipse cx="191.71" cy="639.2" rx="3.1" ry="2.7" fill="#333333"/>
<ellipse cx="251.92" cy="639.2" rx="3.1" ry="2.7" fill="#333333"/>
<ellipse cx="312.13" cy="639.2" rx="3.1" ry="2.7" fill="#333333"/>
<ellipse cx="372.34" cy="639.2" rx="3.1" ry="2.7" fill="#333333"/>
<ellipse cx="432.55" cy="639.2" rx="3.1" ry="2.7" fill="#333333"/>
<ellipse cx="492.76" cy="639.2" rx="3.1" ry="2.7" fill="#333333"/>
<ellipse cx="552.97" cy="639.2" rx="3.1" ry="2.7" fill="#333333"/>
<ellipse cx="552.97" cy="621.86" rx="3.1" ry="2.7" fill="#333333"/>
<ellipse cx="552.97" cy="630.83" rx="3.1" ry="2.7" fill="#333333"/>
<ellipse cx="552.97" cy="632.62" rx="3.1" ry="2.7" fill="#333333"/>
<ellipse cx="552.97" cy="636.81" rx="3.1" ry="2.7" fill="#333333"/>
<ellipse cx="613.18" cy="527.39" rx="3.1" ry="2.7" fill="#333333"/>
<ellipse cx="613.18" cy="388.08" rx="3.1" ry="2.7" fill="#333333"/>
<ellipse cx="613.18" cy="329.79" rx="3.1" ry="2.7" fill="#333333"/>
<ellipse cx="673.39" cy="639.2" rx="3.1" ry="2.7" fill="#333333"/>
<ellipse cx="733.6" cy="639.2" rx="3.1" ry="2.7" fill="#333333"/>
<ellipse cx="793.81" cy="639.2" rx="3.1" ry="2.7" fill="#333333"/>
<ellipse cx="854.02" cy="639.2" rx="3.1" ry="2.7" fill="#333333"/>
<ellipse cx="854.02" cy="626.05" rx="3.1" ry="2.7" fill="#333333"/>
<ellipse cx="854.02" cy="630.47" rx="3.1" ry="2.7" fill="#333333"/>
<ellipse cx="854.02" cy="635.61" rx="3.1" ry="2.7" fill="#333333"/>
<ellipse cx="854.02" cy="638" rx="3.1" ry="2.7" fill="#333333"/>
<ellipse cx="914.23" cy="556.69" rx="3.1" ry="2.7" fill="#333333"/>
<ellipse cx="914.23" cy="490.32" rx="3.1" ry="2.7" fill="#333333"/>
<ellipse cx="914.23" cy="310.47" rx="3.1" ry="2.7" fill="#333333"/>
<ellipse cx="914.23" cy="140.55" rx="3.1" ry="2.7" fill="#333333"/>
<ellipse cx="914.23" cy="110.9" rx="3.1" ry="2.7" fill="#333333"/>
<ellipse cx="974.44" cy="639.2" rx="3.1" ry="2.7" fill="#333333"/>
<ellipse cx="1034.65" cy="639.2" rx="3.1" ry="2.7" fill="#333333"/>
<ellipse cx="1094.86" cy="639.2" rx="3.1" ry="2.7" fill="#333333"/>
<ellipse cx="1155.07" cy="639.2" rx="3.1" ry="2.7" fill="#333333"/>
<ellipse cx="1215.28" cy="639.2" rx="3.1" ry="2.7" fill="#333333"/>
<ellipse cx="1215.28" cy="606.32" rx="3.1" ry="2.7" fill="#333333"/>
<ellipse cx="1215.28" cy="635.01" rx="3.1" ry="2.7" fill="#333333"/>
<ellipse cx="1215.28" cy="636.21" rx="3.1" ry="2.7" fill="#333333"/>
<ellipse cx="1275.49" cy="639.2" rx="3.1" ry="2.7" fill="#333333"/>
<ellipse cx="1335.7" cy="639.2" rx="3.1" ry="2.7" fill="#333333"/>
<ellipse cx="1395.91" cy="639.2" rx="3.1" ry="2.7" fill="#333333"/>
<ellipse cx="1456.12" cy="639.2" rx="3.1" ry="2.7" fill="#333333"/>
<ellipse cx="1516.33" cy="639.2" rx="3.1" ry="2.7" fill="#333333"/>
<ellipse cx="1516.33" cy="520.22" rx="3.1" ry="2.7" fill="#333333"/>
<ellipse cx="1516.33" cy="634.42" rx="3.1" ry="2.7" fill="#333333"/>
<ellipse cx="1516.33" cy="638.3" rx="3.1" ry="2.7" fill="#333333"/>
<ellipse cx="1576.54" cy="639.2" rx="3.1" ry="2.7" fill="#333333"/>
<ellipse cx="1636.75" cy="639.2" rx="3.1" ry="2.7" fill="#333333"/>
<ellipse cx="1696.96" cy="639.2" rx="3.1" ry="2.7" fill="#333333"/>
<ellipse cx="1757.17" cy="573.43" rx="3.1" ry="2.7" fill="#333333"/>
<ellipse cx="1757.17" cy="532.18" rx="3.1" ry="2.7" fill="#333333"/>
<ellipse cx="1757.17" cy="452.66" rx="3.1" ry="2.7" fill="#333333"/>
<ellipse cx="1757.17" cy="415.59" rx="3.1" ry="2.7" fill="#333333"/>
<ellipse cx="1757.17" cy="410.2" rx="3.1" ry="2.7" fill="#333333"/>
<ellipse cx="1877.59" cy="639.2" rx="3.1" ry="2.7" fill="#333333"/>
<ellipse cx="1937.8" cy="639.2" rx="3.1" ry="2.7" fill="#333333"/>
<ellipse cx="1998.01" cy="639.2" rx="3.1" ry="2.7" fill="#333333"/>
<ellipse cx="2058.22" cy="367.75" rx="3.1" ry="2.7" fill="#333333"/>
<ellipse cx="2058.22" cy="364.17" rx="3.1" ry="2.7" fill="#333333"/>
<ellipse cx="2058.22" cy="192.57" rx="3.1" ry="2.7" fill="#333333"/>
<ellipse cx="2178.64" cy="639.2" rx="3.1" ry="2.7" fill="#333333"/>
<ellipse cx="2238.85" cy="639.2" rx="3.1" ry="2.7" fill="#333333"/>
<ellipse cx="2299.06" cy="639.2" rx="3.1" ry="2.7" fill="#333333"/>
<ellipse cx="2359.27" cy="639.2" rx="3.1" ry="2.7" fill="#333333"/>
<ellipse cx="2359.27" cy="614.93" rx="3.1" ry="2.7" fill="#333333"/>
<ellipse cx="2359.27" cy="638" rx="3.1" ry="2.7" fill="#333333"/>
<ellipse cx="2419.48" cy="332.48" rx="3.1" ry="2.7" fill="#333333"/>
<ellipse cx="2479.69" cy="639.2" rx="3.1" ry="2.7" fill="#333333"/>
<ellipse cx="2539.9" cy="639.2" rx="3.1" ry="2.7" fill="#333333"/>
<ellipse cx="2600.11" cy="639.2" rx="3.1" ry="2.7" fill="#333333"/>
<ellipse cx="2660.32" cy="608.11" rx="3.1" ry="2.7" fill="#333333"/>
<ellipse cx="2720.53" cy="596.75" rx="3.1" ry="2.7" fill="#333333"/>
<ellipse cx="2720.53" cy="589.57" rx="3.1" ry="2.7" fill="#333333"/>
<ellipse cx="2720.53" cy="496.9" rx="3.1" ry="2.7" fill="#333333"/>
</g>
<rect x="95.4" y="11.8" width="2661.5" height="657.3" fill="none" stroke="#333333" stroke-width="1.3"/>
<line x1="88.7" y1="639.2" x2="95.4" y2="639.2" stroke="#333333" stroke-width="1.2"/>
<text x="82" y="648.8" font-family='"Liberation Sans", sans-serif' font-size="26.8" fill="#4d4d4d" text-anchor="end" font-weight="normal">0.00</text>
<line x1="88.7" y1="489.73" x2="95.4" y2="489.73" stroke="#333333" stroke-width="1.2"/>
<text x="82" y="499.33" font-family='"Liberation Sans", sans-serif' font-size="26.8" fill="#4d4d4d" text-anchor="end" font-weight="normal">0.25</text>
<line x1="88.7" y1="340.25" x2="95.4" y2="340.25" stroke="#333333" stroke-width="1.2"/>
<text x="82" y="349.85" font-family='"Liberation Sans", sans-serif' font-size="26.8" fill="#4d4d4d" text-anchor="end" font-weight="normal">0.50</text>
<line x1="88.7" y1="190.78" x2="95.4" y2="190.78" stroke="#333333" stroke-width="1.2"/>
<text x="82" y="200.38" font-family='"Liberation Sans", sans-serif' font-size="26.8" fill="#4d4d4d" text-anchor="end" font-weight="normal">0.75</text>
<line x1="88.7" y1="41.3" x2="95.4" y2="41.3" stroke="#333333" stroke-width="1.2"/>
<text x="82" y="41.3" font-family='"Liberation Sans", sans-serif' font-size="26.8" fill="#4d4d4d" text-anchor="end" font-weight="normal">1.00</text>
<line x1="131.5" y1="669.1" x2="131.5" y2="674.5" stroke="#333333" stroke-width="1.2"/>
<text transform="translate(136.71 695.09) rotate(-45)" font-family='"Liberation Sans", sans-serif' font-size="26.8" fill="#4d4d4d" text-anchor="end" font-weight="normal">BM</text>
<line x1="191.71" y1="669.1" x2="191.71" y2="674.5" stroke="#333333" stroke-width="1.2"/>
<text transform="translate(196.61 695.25) rotate(-45)" font-family='"Liberation Sans", sans-serif' font-size="26.8" fill="#4d4d4d" text-anchor="end" font-weight="normal">EB</text>
<line x1="251.92" y1="669.1" x2="251.92" y2="674.5" stroke="#333333" stroke-width="1.2"/>
<text transform="translate(259.13 694.1) rotate(-45)" font-family='"Liberation Sans", sans-serif' font-size="26.8" fill="#4d4d4d" text-anchor="end" font-weight="normal">Trend</text>
<line x1="312.13" y1="669.1" x2="312.13" y2="674.5" stroke="#333333" stroke-width="1.2"/>
<text transform="translate(318.37 694.58) rotate(-45)" font-family='"Liberation Sans", sans-serif' font-size="26.8" fill="#4d4d4d" text-anchor="end" font-weight="normal">OU1</text>
<line x1="372.34" y1="669.1" x2="372.34" y2="674.5" stroke="#333333" stroke-width="1.2"/>
<text transform="translate(385.66 691.04) rotate(-45)" font-family='"Liberation Sans", sans-serif' font-size="26.8" fill="#4d4d4d" text-anchor="end" font-weight="normal">BMS:AT_DIS</text>
<line x1="432.55" y1="669.1" x2="432.55" y2="674.5" stroke="#333333" stroke-width="1.2"/>
<text transform="translate(446.18 690.89) rotate(-45)" font-family='"Liberation Sans", sans-serif' font-size="26.8" fill="#4d4d4d" text-anchor="end" font-weight="normal">OUM:AT_DIS</text>
<line x1="492.76" y1="669.1" x2="492.76" y2="674.5" stroke="#333333" stroke-width="1.2"/>
<text transform="translate(507.56 690.3) rotate(-45)" font-family='"Liberation Sans", sans-serif' font-size="26.8" fill="#4d4d4d" text-anchor="end" font-weight="normal">OUMV:AT_DIS</text>
<line x1="552.97" y1="669.1" x2="552.97" y2="674.5" stroke="#333333" stroke-width="1.2"/>
<text transform="translate(567.83 690.27) rotate(-45)" font-family='"Liberation Sans", sans-serif' font-size="26.8" fill="#4d4d4d" text-anchor="end" font-weight="normal">OUMA:AT_DIS</text>
<line x1="613.18" y1="669.1" x2="613.18" y2="674.5" stroke="#333333" stroke-width="1.2"/>
<text transform="translate(629.14 689.72) rotate(-45)" font-family='"Liberation Sans", sans-serif' font-size="26.8" fill="#4d4d4d" text-anchor="end" font-weight="normal">OUMVA:AT_DIS</text>
<line x1="673.39" y1="669.1" x2="673.39" y2="674.5" stroke="#333333" stroke-width="1.2"/>
<text transform="translate(686.75 691.02) rotate(-45)" font-family='"Liberation Sans", sans-serif' font-size="26.8" fill="#4d4d4d" text-anchor="end" font-weight="normal">BMS:AL_DIS</text>
<line x1="733.6" y1="669.1" x2="733.6" y2="674.5" stroke="#333333" stroke-width="1.2"/>
<text transform="translate(747.26 690.87) rotate(-45)" font-family='"Liberation Sans", sans-serif' font-size="26.8" fill="#4d4d4d" text-anchor="end" font-weight="normal">OUM:AL_DIS</text>
<line x1="793.81" y1="669.1" x2="793.81" y2="674.5" stroke="#333333" stroke-width="1.2"/>
<text transform="translate(808.64 690.28) rotate(-45)" font-family='"Liberation Sans", sans-serif' font-size="26.8" fill="#4d4d4d" text-anchor="end" font-weight="normal">OUMV:AL_DIS</text>
<line x1="854.02" y1="669.1" x2="854.02" y2="674.5" stroke="#333333" stroke-width="1.2"/>
<text transform="translate(868.92 690.25) rotate(-45)" font-family='"Liberation Sans", sans-serif' font-size="26.8" fill="#4d4d4d" text-anchor="end" font-weight="normal">OUMA:AL_DIS</text>
<line x1="914.23" y1="669.1" x2="914.23" y2="674.5" stroke="#333333" stroke-width="1.2"/>
<text transform="translate(930.23 689.7) rotate(-45)" font-family='"Liberation Sans", sans-serif' font-size="26.8" fill="#4d4d4d" text-anchor="end" font-weight="normal">OUMVA:AL_DIS</text>
<line x1="974.44" y1="669.1" x2="974.44" y2="674.5" stroke="#333333" stroke-width="1.2"/>
<text transform="translate(988.1 690.87) rotate(-45)" font-family='"Liberation Sans", sans-serif' font-size="26.8" fill="#4d4d4d" text-anchor="end" font-weight="normal">BMS:AC_DIS</text>
<line x1="1034.65" y1="669.1" x2="1034.65" y2="674.5" stroke="#333333" stroke-width="1.2"/>
<text transform="translate(1048.62 690.71) rotate(-45)" font-family='"Liberation Sans", sans-serif' font-size="26.8" fill="#4d4d4d" text-anchor="end" font-weight="normal">OUM:AC_DIS</text>
<line x1="1094.86" y1="669.1" x2="1094.86" y2="674.5" stroke="#333333" stroke-width="1.2"/>
<text transform="translate(1110 690.13) rotate(-45)" font-family='"Liberation Sans", sans-serif' font-size="26.8" fill="#4d4d4d" text-anchor="end" font-weight="normal">OUMV:AC_DIS</text>
<line x1="1155.07" y1="669.1" x2="1155.07" y2="674.5" stroke="#333333" stroke-width="1.2"/>
<text transform="translate(1170.28 690.1) rotate(-45)" font-family='"Liberation Sans", sans-serif' font-size="26.8" fill="#4d4d4d" text-anchor="end" font-weight="normal">OUMA:AC_DIS</text>
<line x1="1215.28" y1="669.1" x2="1215.28" y2="674.5" stroke="#333333" stroke-width="1.2"/>
<text transform="translate(1231.59 689.55) rotate(-45)" font-family='"Liberation Sans", sans-serif' font-size="26.8" fill="#4d4d4d" text-anchor="end" font-weight="normal">OUMVA:AC_DIS</text>
<line x1="1275.49" y1="669.1" x2="1275.49" y2="674.5" stroke="#333333" stroke-width="1.2"/>
<text transform="translate(1287.81 691.54) rotate(-45)" font-family='"Liberation Sans", sans-serif' font-size="26.8" fill="#4d4d4d" text-anchor="end" font-weight="normal">BMS:A_DIS</text>
<line x1="1335.7" y1="669.1" x2="1335.7" y2="674.5" stroke="#333333" stroke-width="1.2"/>
<text transform="translate(1348.33 691.38) rotate(-45)" font-family='"Liberation Sans", sans-serif' font-size="26.8" fill="#4d4d4d" text-anchor="end" font-weight="normal">OUM:A_DIS</text>
<line x1="1395.91" y1="669.1" x2="1395.91" y2="674.5" stroke="#333333" stroke-width="1.2"/>
<text transform="translate(1409.71 690.8) rotate(-45)" font-family='"Liberation Sans", sans-serif' font-size="26.8" fill="#4d4d4d" text-anchor="end" font-weight="normal">OUMV:A_DIS</text>
<line x1="1456.12" y1="669.1" x2="1456.12" y2="674.5" stroke="#333333" stroke-width="1.2"/>
<text transform="translate(1469.99 690.77) rotate(-45)" font-family='"Liberation Sans", sans-serif' font-size="26.8" fill="#4d4d4d" text-anchor="end" font-weight="normal">OUMA:A_DIS</text>
<line x1="1516.33" y1="669.1" x2="1516.33" y2="674.5" stroke="#333333" stroke-width="1.2"/>
<text transform="translate(1531.3 690.22) rotate(-45)" font-family='"Liberation Sans", sans-serif' font-size="26.8" fill="#4d4d4d" text-anchor="end" font-weight="normal">OUMVA:A_DIS</text>
<line x1="1576.54" y1="669.1" x2="1576.54" y2="674.5" stroke="#333333" stroke-width="1.2"/>
<text transform="translate(1590.79 690.58) rotate(-45)" font-family='"Liberation Sans", sans-serif' font-size="26.8" fill="#4d4d4d" text-anchor="end" font-weight="normal">BMS:AT_AMP</text>
<line x1="1636.75" y1="669.1" x2="1636.75" y2="674.5" stroke="#333333" stroke-width="1.2"/>
<text transform="translate(1651.3 690.42) rotate(-45)" font-family='"Liberation Sans", sans-serif' font-size="26.8" fill="#4d4d4d" text-anchor="end" font-weight="normal">OUM:AT_AMP</text>
<line x1="1696.96" y1="669.1" x2="1696.96" y2="674.5" stroke="#333333" stroke-width="1.2"/>
<text transform="translate(1712.68 689.84) rotate(-45)" font-family='"Liberation Sans", sans-serif' font-size="26.8" fill="#4d4d4d" text-anchor="end" font-weight="normal">OUMV:AT_AMP</text>
<line x1="1757.17" y1="669.1" x2="1757.17" y2="674.5" stroke="#333333" stroke-width="1.2"/>
<text transform="translate(1772.96 689.8) rotate(-45)" font-family='"Liberation Sans", sans-serif' font-size="26.8" fill="#4d4d4d" text-anchor="end" font-weight="normal">OUMA:AT_AMP</text>
<line x1="1817.38" y1="669.1" x2="1817.38" y2="674.5" stroke="#333333" stroke-width="1.2"/>
<text transform="translate(1831.08 692.6) rotate(-45)" font-family='"Liberation Sans", sans-serif' font-size="27.5" fill="#92278f" text-anchor="end" font-weight="bold">OUMVA:AT<tspan stroke="#92278f" stroke-width="1.8">_</tspan>AMP</text>
<line x1="1877.59" y1="669.1" x2="1877.59" y2="674.5" stroke="#333333" stroke-width="1.2"/>
<text transform="translate(1891.87 690.56) rotate(-45)" font-family='"Liberation Sans", sans-serif' font-size="26.8" fill="#4d4d4d" text-anchor="end" font-weight="normal">BMS:AL_AMP</text>
<line x1="1937.8" y1="669.1" x2="1937.8" y2="674.5" stroke="#333333" stroke-width="1.2"/>
<text transform="translate(1952.39 690.4) rotate(-45)" font-family='"Liberation Sans", sans-serif' font-size="26.8" fill="#4d4d4d" text-anchor="end" font-weight="normal">OUM:AL_AMP</text>
<line x1="1998.01" y1="669.1" x2="1998.01" y2="674.5" stroke="#333333" stroke-width="1.2"/>
<text transform="translate(2013.77 689.82) rotate(-45)" font-family='"Liberation Sans", sans-serif' font-size="26.8" fill="#4d4d4d" text-anchor="end" font-weight="normal">OUMV:AL_AMP</text>
<line x1="2058.22" y1="669.1" x2="2058.22" y2="674.5" stroke="#333333" stroke-width="1.2"/>
<text transform="translate(2074.05 689.79) rotate(-45)" font-family='"Liberation Sans", sans-serif' font-size="26.8" fill="#4d4d4d" text-anchor="end" font-weight="normal">OUMA:AL_AMP</text>
<line x1="2118.43" y1="669.1" x2="2118.43" y2="674.5" stroke="#333333" stroke-width="1.2"/>
<text transform="translate(2132.13 692.6) rotate(-45)" font-family='"Liberation Sans", sans-serif' font-size="27.5" fill="#92278f" text-anchor="end" font-weight="bold">OUMVA:AL<tspan stroke="#92278f" stroke-width="1.8">_</tspan>AMP</text>
<line x1="2178.64" y1="669.1" x2="2178.64" y2="674.5" stroke="#333333" stroke-width="1.2"/>
<text transform="translate(2193.23 690.4) rotate(-45)" font-family='"Liberation Sans", sans-serif' font-size="26.8" fill="#4d4d4d" text-anchor="end" font-weight="normal">BMS:AC_AMP</text>
<line x1="2238.85" y1="669.1" x2="2238.85" y2="674.5" stroke="#333333" stroke-width="1.2"/>
<text transform="translate(2253.75 690.25) rotate(-45)" font-family='"Liberation Sans", sans-serif' font-size="26.8" fill="#4d4d4d" text-anchor="end" font-weight="normal">OUM:AC_AMP</text>
<line x1="2299.06" y1="669.1" x2="2299.06" y2="674.5" stroke="#333333" stroke-width="1.2"/>
<text transform="translate(2315.13 689.67) rotate(-45)" font-family='"Liberation Sans", sans-serif' font-size="26.8" fill="#4d4d4d" text-anchor="end" font-weight="normal">OUMV:AC_AMP</text>
<line x1="2359.27" y1="669.1" x2="2359.27" y2="674.5" stroke="#333333" stroke-width="1.2"/>
<text transform="translate(2375.41 689.63) rotate(-45)" font-family='"Liberation Sans", sans-serif' font-size="26.8" fill="#4d4d4d" text-anchor="end" font-weight="normal">OUMA:AC_AMP</text>
<line x1="2419.48" y1="669.1" x2="2419.48" y2="674.5" stroke="#333333" stroke-width="1.2"/>
<text transform="translate(2436.71 689.08) rotate(-45)" font-family='"Liberation Sans", sans-serif' font-size="26.8" fill="#4d4d4d" text-anchor="end" font-weight="normal">OUMVA:AC_AMP</text>
<line x1="2479.69" y1="669.1" x2="2479.69" y2="674.5" stroke="#333333" stroke-width="1.2"/>
<text transform="translate(2492.94 691.07) rotate(-45)" font-family='"Liberation Sans", sans-serif' font-size="26.8" fill="#4d4d4d" text-anchor="end" font-weight="normal">BMS:A_AMP</text>
<line x1="2539.9" y1="669.1" x2="2539.9" y2="674.5" stroke="#333333" stroke-width="1.2"/>
<text transform="translate(2553.46 690.92) rotate(-45)" font-family='"Liberation Sans", sans-serif' font-size="26.8" fill="#4d4d4d" text-anchor="end" font-weight="normal">OUM:A_AMP</text>
<line x1="2600.11" y1="669.1" x2="2600.11" y2="674.5" stroke="#333333" stroke-width="1.2"/>
<text transform="translate(2614.84 690.34) rotate(-45)" font-family='"Liberation Sans", sans-serif' font-size="26.8" fill="#4d4d4d" text-anchor="end" font-weight="normal">OUMV:A_AMP</text>
<line x1="2660.32" y1="669.1" x2="2660.32" y2="674.5" stroke="#333333" stroke-width="1.2"/>
<text transform="translate(2675.12 690.3) rotate(-45)" font-family='"Liberation Sans", sans-serif' font-size="26.8" fill="#4d4d4d" text-anchor="end" font-weight="normal">OUMA:A_AMP</text>
<line x1="2720.53" y1="669.1" x2="2720.53" y2="674.5" stroke="#333333" stroke-width="1.2"/>
<text transform="translate(2736.43 689.75) rotate(-45)" font-family='"Liberation Sans", sans-serif' font-size="26.8" fill="#4d4d4d" text-anchor="end" font-weight="normal">OUMVA:A_AMP</text>
<text x="107.9" y="58.8" font-family='"Liberation Sans", sans-serif' font-size="38" fill="#000000" text-anchor="start" font-weight="normal">AICc weight</text>
<text x="19" y="788.8" font-family='"Liberation Sans", sans-serif' font-size="50" fill="#000000" text-anchor="start" font-weight="bold">A</text>
<clipPath id="pb"><rect x="57" y="957.6" width="625.2" height="634.6"/></clipPath>
<g clip-path="url(#pb)">
<line x1="57" y1="1518.96" x2="682.2" y2="1518.96" stroke="#e8e8e8" stroke-width="1.5"/>
<line x1="57" y1="1358.85" x2="682.2" y2="1358.85" stroke="#e8e8e8" stroke-width="1.5"/>
<line x1="57" y1="1198.74" x2="682.2" y2="1198.74" stroke="#e8e8e8" stroke-width="1.5"/>
<line x1="57" y1="1038.62" x2="682.2" y2="1038.62" stroke="#e8e8e8" stroke-width="1.5"/>
<line x1="57" y1="1438.9" x2="682.2" y2="1438.9" stroke="#e2e2e2" stroke-width="1.5"/>
<line x1="57" y1="1278.79" x2="682.2" y2="1278.79" stroke="#e2e2e2" stroke-width="1.5"/>
<line x1="57" y1="1118.68" x2="682.2" y2="1118.68" stroke="#e2e2e2" stroke-width="1.5"/>
<line x1="57" y1="958.57" x2="682.2" y2="958.57" stroke="#e2e2e2" stroke-width="1.5"/>
<line x1="174.4" y1="957.6" x2="174.4" y2="1592.2" stroke="#e2e2e2" stroke-width="1.5"/>
<line x1="369.9" y1="957.6" x2="369.9" y2="1592.2" stroke="#e2e2e2" stroke-width="1.5"/>
<line x1="565" y1="957.6" x2="565" y2="1592.2" stroke="#e2e2e2" stroke-width="1.5"/>
</g>
<rect x="57" y="957.6" width="625.2" height="634.6" fill="none" stroke="#333333" stroke-width="1.3"/>
<line x1="53.5" y1="1438.9" x2="57" y2="1438.9" stroke="#333333" stroke-width="1.2"/>
<text x="57.3" y="1444" font-family='"Liberation Sans", sans-serif' font-size="26.8" fill="#4d4d4d" text-anchor="end" font-weight="normal">0.03</text>
<line x1="53.5" y1="1278.79" x2="57" y2="1278.79" stroke="#333333" stroke-width="1.2"/>
<text x="57.3" y="1283.89" font-family='"Liberation Sans", sans-serif' font-size="26.8" fill="#4d4d4d" text-anchor="end" font-weight="normal">0.06</text>
<line x1="53.5" y1="1118.68" x2="57" y2="1118.68" stroke="#333333" stroke-width="1.2"/>
<text x="57.3" y="1123.78" font-family='"Liberation Sans", sans-serif' font-size="26.8" fill="#4d4d4d" text-anchor="end" font-weight="normal">0.09</text>
<line x1="53.5" y1="958.57" x2="57" y2="958.57" stroke="#333333" stroke-width="1.2"/>
<text x="57.3" y="963.67" font-family='"Liberation Sans", sans-serif' font-size="26.8" fill="#4d4d4d" text-anchor="end" font-weight="normal">0.12</text>
<line x1="174.4" y1="1592.2" x2="174.4" y2="1595.7" stroke="#333333" stroke-width="1.2"/>
<text transform="translate(179.4 1607.8) rotate(-45)" font-family='"Liberation Sans", sans-serif' font-size="26.8" fill="#4d4d4d" text-anchor="end" font-weight="normal">Ancestral regime</text>
<line x1="369.9" y1="1592.2" x2="369.9" y2="1595.7" stroke="#333333" stroke-width="1.2"/>
<text transform="translate(379.4 1602.1) rotate(-45)" font-family='"Liberation Sans", sans-serif' font-size="26.8" fill="#4d4d4d" text-anchor="end" font-weight="normal">Amphibamiformes</text>
<line x1="565" y1="1592.2" x2="565" y2="1595.7" stroke="#333333" stroke-width="1.2"/>
<text transform="translate(581.8 1607.9) rotate(-45)" font-family='"Liberation Sans", sans-serif' font-size="26.8" fill="#4d4d4d" text-anchor="end" font-weight="normal">Amniotes total group</text>
<clipPath id="pc"><rect x="746.7" y="953.5" width="625.6" height="638.7"/></clipPath>
<g clip-path="url(#pc)">
<line x1="746.7" y1="1581.12" x2="1372.3" y2="1581.12" stroke="#e8e8e8" stroke-width="1.5"/>
<line x1="746.7" y1="1440.08" x2="1372.3" y2="1440.08" stroke="#e8e8e8" stroke-width="1.5"/>
<line x1="746.7" y1="1299.03" x2="1372.3" y2="1299.03" stroke="#e8e8e8" stroke-width="1.5"/>
<line x1="746.7" y1="1157.97" x2="1372.3" y2="1157.97" stroke="#e8e8e8" stroke-width="1.5"/>
<line x1="746.7" y1="1016.92" x2="1372.3" y2="1016.92" stroke="#e8e8e8" stroke-width="1.5"/>
<line x1="746.7" y1="1510.6" x2="1372.3" y2="1510.6" stroke="#e2e2e2" stroke-width="1.5"/>
<line x1="746.7" y1="1369.55" x2="1372.3" y2="1369.55" stroke="#e2e2e2" stroke-width="1.5"/>
<line x1="746.7" y1="1228.5" x2="1372.3" y2="1228.5" stroke="#e2e2e2" stroke-width="1.5"/>
<line x1="746.7" y1="1087.45" x2="1372.3" y2="1087.45" stroke="#e2e2e2" stroke-width="1.5"/>
<line x1="863.9" y1="953.5" x2="863.9" y2="1592.2" stroke="#e2e2e2" stroke-width="1.5"/>
<line x1="1059.7" y1="953.5" x2="1059.7" y2="1592.2" stroke="#e2e2e2" stroke-width="1.5"/>
<line x1="1255.1" y1="953.5" x2="1255.1" y2="1592.2" stroke="#e2e2e2" stroke-width="1.5"/>
</g>
<rect x="746.7" y="953.5" width="625.6" height="638.7" fill="none" stroke="#333333" stroke-width="1.3"/>
<line x1="743.2" y1="1510.6" x2="746.7" y2="1510.6" stroke="#333333" stroke-width="1.2"/>
<text x="741.3" y="1515.7" font-family='"Liberation Sans", sans-serif' font-size="26.8" fill="#4d4d4d" text-anchor="end" font-weight="normal">1.50</text>
<line x1="743.2" y1="1369.55" x2="746.7" y2="1369.55" stroke="#333333" stroke-width="1.2"/>
<text x="741.3" y="1374.65" font-family='"Liberation Sans", sans-serif' font-size="26.8" fill="#4d4d4d" text-anchor="end" font-weight="normal">1.75</text>
<line x1="743.2" y1="1228.5" x2="746.7" y2="1228.5" stroke="#333333" stroke-width="1.2"/>
<text x="741.3" y="1233.6" font-family='"Liberation Sans", sans-serif' font-size="26.8" fill="#4d4d4d" text-anchor="end" font-weight="normal">2.00</text>
<line x1="743.2" y1="1087.45" x2="746.7" y2="1087.45" stroke="#333333" stroke-width="1.2"/>
<text x="741.3" y="1092.55" font-family='"Liberation Sans", sans-serif' font-size="26.8" fill="#4d4d4d" text-anchor="end" font-weight="normal">2.25</text>
<line x1="863.9" y1="1592.2" x2="863.9" y2="1595.7" stroke="#333333" stroke-width="1.2"/>
<text transform="translate(868.9 1606.4) rotate(-45)" font-family='"Liberation Sans", sans-serif' font-size="26.8" fill="#4d4d4d" text-anchor="end" font-weight="normal">Ancestral regime</text>
<line x1="1059.7" y1="1592.2" x2="1059.7" y2="1595.7" stroke="#333333" stroke-width="1.2"/>
<text transform="translate(1069.7 1600.6) rotate(-45)" font-family='"Liberation Sans", sans-serif' font-size="26.8" fill="#4d4d4d" text-anchor="end" font-weight="normal">Amphibamiformes</text>
<line x1="1255.1" y1="1592.2" x2="1255.1" y2="1595.7" stroke="#333333" stroke-width="1.2"/>
<text transform="translate(1273.1 1604.2) rotate(-45)" font-family='"Liberation Sans", sans-serif' font-size="26.8" fill="#4d4d4d" text-anchor="end" font-weight="normal">Amniotes total group</text>
<clipPath id="pd"><rect x="1451.7" y="953.5" width="630.6" height="638"/></clipPath>
<g clip-path="url(#pd)">
<line x1="1451.7" y1="1487.3" x2="2082.3" y2="1487.3" stroke="#e8e8e8" stroke-width="1.5"/>
<line x1="1451.7" y1="1250.1" x2="2082.3" y2="1250.1" stroke="#e8e8e8" stroke-width="1.5"/>
<line x1="1451.7" y1="1012.9" x2="2082.3" y2="1012.9" stroke="#e8e8e8" stroke-width="1.5"/>
<line x1="1451.7" y1="1368.7" x2="2082.3" y2="1368.7" stroke="#e2e2e2" stroke-width="1.5"/>
<line x1="1451.7" y1="1131.5" x2="2082.3" y2="1131.5" stroke="#e2e2e2" stroke-width="1.5"/>
<line x1="1570.2" y1="953.5" x2="1570.2" y2="1591.5" stroke="#e2e2e2" stroke-width="1.5"/>
<line x1="1767.2" y1="953.5" x2="1767.2" y2="1591.5" stroke="#e2e2e2" stroke-width="1.5"/>
<line x1="1964.4" y1="953.5" x2="1964.4" y2="1591.5" stroke="#e2e2e2" stroke-width="1.5"/>
</g>
<rect x="1451.7" y="953.5" width="630.6" height="638" fill="none" stroke="#333333" stroke-width="1.3"/>
<line x1="1448.2" y1="1368.7" x2="1451.7" y2="1368.7" stroke="#333333" stroke-width="1.2"/>
<text x="1446" y="1373.8" font-family='"Liberation Sans", sans-serif' font-size="26.8" fill="#4d4d4d" text-anchor="end" font-weight="normal">0.05</text>
<line x1="1448.2" y1="1131.5" x2="1451.7" y2="1131.5" stroke="#333333" stroke-width="1.2"/>
<text x="1446" y="1136.6" font-family='"Liberation Sans", sans-serif' font-size="26.8" fill="#4d4d4d" text-anchor="end" font-weight="normal">0.10</text>
<line x1="1570.2" y1="1591.5" x2="1570.2" y2="1595" stroke="#333333" stroke-width="1.2"/>
<text transform="translate(1573.7 1607.2) rotate(-45)" font-family='"Liberation Sans", sans-serif' font-size="26.8" fill="#4d4d4d" text-anchor="end" font-weight="normal">Ancestral regime</text>
<line x1="1767.2" y1="1591.5" x2="1767.2" y2="1595" stroke="#333333" stroke-width="1.2"/>
<text transform="translate(1777.3 1602.2) rotate(-45)" font-family='"Liberation Sans", sans-serif' font-size="26.8" fill="#4d4d4d" text-anchor="end" font-weight="normal">Amphibamiformes</text>
<line x1="1964.4" y1="1591.5" x2="1964.4" y2="1595" stroke="#333333" stroke-width="1.2"/>
<text transform="translate(1978.2 1610.1) rotate(-45)" font-family='"Liberation Sans", sans-serif' font-size="26.8" fill="#4d4d4d" text-anchor="end" font-weight="normal">Amniotes+Lepospondyli</text>
<clipPath id="pe"><rect x="2144.6" y="953.5" width="627.8" height="635.8"/></clipPath>
<g clip-path="url(#pe)">
<line x1="2144.6" y1="1570.72" x2="2772.4" y2="1570.72" stroke="#e8e8e8" stroke-width="1.5"/>
<line x1="2144.6" y1="1436.47" x2="2772.4" y2="1436.47" stroke="#e8e8e8" stroke-width="1.5"/>
<line x1="2144.6" y1="1302.22" x2="2772.4" y2="1302.22" stroke="#e8e8e8" stroke-width="1.5"/>
<line x1="2144.6" y1="1167.97" x2="2772.4" y2="1167.97" stroke="#e8e8e8" stroke-width="1.5"/>
<line x1="2144.6" y1="1033.72" x2="2772.4" y2="1033.72" stroke="#e8e8e8" stroke-width="1.5"/>
<line x1="2144.6" y1="1503.6" x2="2772.4" y2="1503.6" stroke="#e2e2e2" stroke-width="1.5"/>
<line x1="2144.6" y1="1369.35" x2="2772.4" y2="1369.35" stroke="#e2e2e2" stroke-width="1.5"/>
<line x1="2144.6" y1="1235.1" x2="2772.4" y2="1235.1" stroke="#e2e2e2" stroke-width="1.5"/>
<line x1="2144.6" y1="1100.85" x2="2772.4" y2="1100.85" stroke="#e2e2e2" stroke-width="1.5"/>
<line x1="2144.6" y1="966.6" x2="2772.4" y2="966.6" stroke="#e2e2e2" stroke-width="1.5"/>
<line x1="2261.8" y1="953.5" x2="2261.8" y2="1589.3" stroke="#e2e2e2" stroke-width="1.5"/>
<line x1="2458.2" y1="953.5" x2="2458.2" y2="1589.3" stroke="#e2e2e2" stroke-width="1.5"/>
<line x1="2654.5" y1="953.5" x2="2654.5" y2="1589.3" stroke="#e2e2e2" stroke-width="1.5"/>
</g>
<rect x="2144.6" y="953.5" width="627.8" height="635.8" fill="none" stroke="#333333" stroke-width="1.3"/>
<line x1="2141.1" y1="1503.6" x2="2144.6" y2="1503.6" stroke="#333333" stroke-width="1.2"/>
<text x="2139" y="1508.7" font-family='"Liberation Sans", sans-serif' font-size="26.8" fill="#4d4d4d" text-anchor="end" font-weight="normal">1.50</text>
<line x1="2141.1" y1="1369.35" x2="2144.6" y2="1369.35" stroke="#333333" stroke-width="1.2"/>
<text x="2139" y="1374.45" font-family='"Liberation Sans", sans-serif' font-size="26.8" fill="#4d4d4d" text-anchor="end" font-weight="normal">1.75</text>
<line x1="2141.1" y1="1235.1" x2="2144.6" y2="1235.1" stroke="#333333" stroke-width="1.2"/>
<text x="2139" y="1240.2" font-family='"Liberation Sans", sans-serif' font-size="26.8" fill="#4d4d4d" text-anchor="end" font-weight="normal">2.00</text>
<line x1="2141.1" y1="1100.85" x2="2144.6" y2="1100.85" stroke="#333333" stroke-width="1.2"/>
<text x="2139" y="1105.95" font-family='"Liberation Sans", sans-serif' font-size="26.8" fill="#4d4d4d" text-anchor="end" font-weight="normal">2.25</text>
<line x1="2141.1" y1="966.6" x2="2144.6" y2="966.6" stroke="#333333" stroke-width="1.2"/>
<text x="2139" y="971.7" font-family='"Liberation Sans", sans-serif' font-size="26.8" fill="#4d4d4d" text-anchor="end" font-weight="normal">2.50</text>
<line x1="2261.8" y1="1589.3" x2="2261.8" y2="1592.8" stroke="#333333" stroke-width="1.2"/>
<text transform="translate(2260.9 1605) rotate(-45)" font-family='"Liberation Sans", sans-serif' font-size="26.8" fill="#4d4d4d" text-anchor="end" font-weight="normal">Ancestral regime</text>
<line x1="2458.2" y1="1589.3" x2="2458.2" y2="1592.8" stroke="#333333" stroke-width="1.2"/>
<text transform="translate(2461.2 1601.3) rotate(-45)" font-family='"Liberation Sans", sans-serif' font-size="26.8" fill="#4d4d4d" text-anchor="end" font-weight="normal">Amphibamiformes</text>
<line x1="2654.5" y1="1589.3" x2="2654.5" y2="1592.8" stroke="#333333" stroke-width="1.2"/>
<text transform="translate(2668.9 1605.9) rotate(-45)" font-family='"Liberation Sans", sans-serif' font-size="26.8" fill="#4d4d4d" text-anchor="end" font-weight="normal">Amniotes+Lepospondyli</text>
<line x1="174.35" y1="1352" x2="174.35" y2="1423.6" stroke="#333333" stroke-width="1.2"/>
<line x1="174.35" y1="1475.7" x2="174.35" y2="1485.9" stroke="#333333" stroke-width="1.2"/>
<rect x="100.8" y="1423.6" width="147.1" height="52.1" fill="#e6e5f1" stroke="#333333" stroke-width="1.2"/>
<line x1="100.8" y1="1471.7" x2="247.9" y2="1471.7" stroke="#333333" stroke-width="2.6"/>
<line x1="369.85" y1="986.5" x2="369.85" y2="995.6" stroke="#333333" stroke-width="1.2"/>
<rect x="296.2" y="995.6" width="147.3" height="90" fill="#aeb1d3" stroke="#333333" stroke-width="1.2"/>
<line x1="296.2" y1="1000.6" x2="443.5" y2="1000.6" stroke="#333333" stroke-width="2.6"/>
<line x1="565.15" y1="1356.3" x2="565.15" y2="1413.8" stroke="#333333" stroke-width="1.2"/>
<line x1="565.15" y1="1477.2" x2="565.15" y2="1563.1" stroke="#333333" stroke-width="1.2"/>
<rect x="491.8" y="1413.8" width="146.7" height="63.4" fill="#6e6eac" stroke="#333333" stroke-width="1.2"/>
<line x1="491.8" y1="1449.1" x2="638.5" y2="1449.1" stroke="#333333" stroke-width="2.6"/>
<line x1="864.2" y1="982.5" x2="864.2" y2="1021.8" stroke="#333333" stroke-width="1.2"/>
<line x1="864.2" y1="1047.9" x2="864.2" y2="1081.4" stroke="#333333" stroke-width="1.2"/>
<rect x="790.7" y="1021.8" width="147" height="26.1" fill="#fcd8cc" stroke="#333333" stroke-width="1.2"/>
<line x1="790.7" y1="1029.7" x2="937.7" y2="1029.7" stroke="#333333" stroke-width="2.6"/>
<line x1="1059.85" y1="1489.5" x2="1059.85" y2="1524.5" stroke="#333333" stroke-width="1.2"/>
<line x1="1059.85" y1="1552.5" x2="1059.85" y2="1563.1" stroke="#333333" stroke-width="1.2"/>
<rect x="986.5" y="1524.5" width="146.7" height="28" fill="#f28b76" stroke="#333333" stroke-width="1.2"/>
<line x1="986.5" y1="1535" x2="1133.2" y2="1535" stroke="#333333" stroke-width="2.6"/>
<line x1="1255.15" y1="1224.5" x2="1255.15" y2="1290.4" stroke="#333333" stroke-width="1.2"/>
<line x1="1255.15" y1="1335.9" x2="1255.15" y2="1365.8" stroke="#333333" stroke-width="1.2"/>
<rect x="1181.6" y="1290.4" width="147.1" height="45.5" fill="#d13a37" stroke="#333333" stroke-width="1.2"/>
<line x1="1181.6" y1="1320.3" x2="1328.7" y2="1320.3" stroke="#333333" stroke-width="2.6"/>
<line x1="1570.2" y1="1447.3" x2="1570.2" y2="1475" stroke="#333333" stroke-width="1.2"/>
<line x1="1570.2" y1="1496.1" x2="1570.2" y2="1504.8" stroke="#333333" stroke-width="1.2"/>
<rect x="1496.1" y="1475" width="148.2" height="21.1" fill="#e6e5f1" stroke="#333333" stroke-width="1.2"/>
<line x1="1496.1" y1="1492.8" x2="1644.3" y2="1492.8" stroke="#333333" stroke-width="2.6"/>
<line x1="1767.35" y1="982.5" x2="1767.35" y2="1074.8" stroke="#333333" stroke-width="1.2"/>
<line x1="1767.35" y1="1402.2" x2="1767.35" y2="1562.3" stroke="#333333" stroke-width="1.2"/>
<rect x="1693.4" y="1074.8" width="147.9" height="327.4" fill="#aeb1d3" stroke="#333333" stroke-width="1.2"/>
<line x1="1693.4" y1="1082.3" x2="1841.3" y2="1082.3" stroke="#333333" stroke-width="2.6"/>
<line x1="1964.45" y1="1398.5" x2="1964.45" y2="1414.5" stroke="#333333" stroke-width="1.2"/>
<line x1="1964.45" y1="1437.5" x2="1964.45" y2="1471" stroke="#333333" stroke-width="1.2"/>
<rect x="1890.4" y="1414.5" width="148.1" height="23" fill="#6e6eac" stroke="#333333" stroke-width="1.2"/>
<line x1="1890.4" y1="1429.8" x2="2038.5" y2="1429.8" stroke="#333333" stroke-width="2.6"/>
<line x1="2261.8" y1="982.5" x2="2261.8" y2="1022.8" stroke="#333333" stroke-width="1.2"/>
<line x1="2261.8" y1="1059" x2="2261.8" y2="1099.6" stroke="#333333" stroke-width="1.2"/>
<rect x="2188" y="1022.8" width="147.6" height="36.2" fill="#fcd8cc" stroke="#333333" stroke-width="1.2"/>
<line x1="2188" y1="1039.1" x2="2335.6" y2="1039.1" stroke="#333333" stroke-width="2.6"/>
<line x1="2458.3" y1="1491.7" x2="2458.3" y2="1517.6" stroke="#333333" stroke-width="1.2"/>
<line x1="2458.3" y1="1550.7" x2="2458.3" y2="1560.5" stroke="#333333" stroke-width="1.2"/>
<rect x="2384.4" y="1517.6" width="147.8" height="33.1" fill="#f28b76" stroke="#333333" stroke-width="1.2"/>
<line x1="2384.4" y1="1530.3" x2="2532.2" y2="1530.3" stroke="#333333" stroke-width="2.6"/>
<line x1="2654.5" y1="1346.5" x2="2654.5" y2="1360.3" stroke="#333333" stroke-width="1.2"/>
<line x1="2654.5" y1="1405.8" x2="2654.5" y2="1425.8" stroke="#333333" stroke-width="1.2"/>
<rect x="2580.6" y="1360.3" width="147.8" height="45.5" fill="#d13a37" stroke="#333333" stroke-width="1.2"/>
<line x1="2580.6" y1="1392" x2="2728.4" y2="1392" stroke="#333333" stroke-width="2.6"/>
<path d="M319.7,955.6 V913.5 H1072.7 V955.3" fill="none" stroke="#333333" stroke-width="1.3"/>
<path d="M1767.5,953.5 V912.9 H2520.1 V953.8" fill="none" stroke="#333333" stroke-width="1.3"/>
<use href="#sal" x="298.2" y="920.4" fill="#231f20"/>
<use href="#sal" x="987.6" y="1443.7" fill="#231f20"/>
<use href="#sal" x="1692.2" y="924.4" fill="#231f20"/>
<use href="#sal" x="2380.3" y="1436.7" fill="#231f20"/>
<use href="#tem" x="117.1" y="1269.6" fill="#231f20"/>
<use href="#tem" x="802.5" y="922.9" fill="#231f20"/>
<use href="#tem" x="1492.1" y="1354.8" fill="#231f20"/>
<use href="#tem" x="2193.1" y="924.4" fill="#231f20"/>
<use href="#eel" x="62.1" y="1504.6" fill="#231f20"/>
<use href="#eel" x="754.1" y="1123.8" fill="#231f20"/>
<use href="#eel" x="1454.6" y="1527.4" fill="#231f20"/>
<use href="#eel" x="2156.2" y="1096.9" fill="#231f20"/>
<use href="#dim" x="455.8" y="1194.8" fill="#231f20"/>
<use href="#dim" x="1132.3" y="1075.4" fill="#231f20"/>
<use href="#dim" x="1864.9" y="1229.6" fill="#231f20"/>
<use href="#dim" x="2544.2" y="1187.3" fill="#231f20"/>
<text x="597.1" y="894.2" font-family='"Liberation Sans", sans-serif' font-size="32.55" fill="#92278f" text-anchor="start" font-weight="bold">OUMVA:AT<tspan stroke="#92278f" stroke-width="2" dy="1">_</tspan><tspan dy="-1">AMP</tspan></text>
<text x="2028.3" y="901" font-family='"Liberation Sans", sans-serif' font-size="32.55" fill="#92278f" text-anchor="start" font-weight="bold">OUMVA:A<tspan dx="-3">L</tspan><tspan stroke="#92278f" stroke-width="2" dy="1">_</tspan><tspan dy="-1">AMP</tspan></text>
<text x="675.9" y="993" font-family='"Liberation Sans", sans-serif' font-size="31.7" fill="#000" text-anchor="end"><tspan font-family='"Liberation Serif", serif' font-style="italic">&#945;</tspan> (Constraint)</text>
<text x="1368.2" y="987" font-family='"Liberation Sans", sans-serif' font-size="31.7" fill="#000" text-anchor="end"><tspan font-family='"Liberation Serif", serif' font-style="italic">&#952;</tspan> (Optimum, log<tspan font-size="21" dy="8">10</tspan><tspan dy="-8"> SL)</tspan></text>
<text x="2073.7" y="990.7" font-family='"Liberation Sans", sans-serif' font-size="31.7" fill="#000" text-anchor="end"><tspan font-family='"Liberation Serif", serif' font-style="italic">&#945;</tspan> (Constraint)</text>
<text x="2766.4" y="983.4" font-family='"Liberation Sans", sans-serif' font-size="31.7" fill="#000" text-anchor="end"><tspan font-family='"Liberation Serif", serif' font-style="italic">&#952;</tspan> (Optimum, log<tspan font-size="21" dy="8">10</tspan><tspan dy="-8"> SL)</tspan></text>
<g fill="none" stroke="#a6a6a6" stroke-linecap="round" stroke-linejoin="round">
<path d="M2418,848 L2417.7,886.3" stroke-width="3.9"/>
<path d="M2406.4,860 L2408.5,866 L2410,871.1" stroke-width="4.16"/>
<path d="M2407.6,861.2 L2416,857.2 L2427.1,854.8 L2431.5,858 L2424,865.5" stroke-width="4.16"/>
<path d="M2410.4,869.5 L2425.5,867.5" stroke-width="3.12"/>
<path d="M2449.9,857.6 L2447.9,866.3 L2447.9,874.3 L2452.7,880.3" stroke-width="4.68"/>
<path d="M2455.1,854.8 L2461.5,851.6 L2467.9,854 L2470.7,862.4 L2471.1,873.5 L2469.5,880.7 L2463.9,881.9 L2455.9,880.3" stroke-width="4.68"/>
<path d="M2455.9,860 L2461.5,859.2" stroke-width="3.38"/>
<path d="M2455.9,867.9 L2466.3,867.5" stroke-width="3.9"/>
<path d="M2460.3,860 L2457.5,873.5" stroke-width="3.9"/>
<path d="M2455.9,874.3 L2466.3,874.3" stroke-width="3.9"/>
<path d="M2487.8,856.4 L2499.8,850.8" stroke-width="3.38"/>
<path d="M2484.2,861.6 L2503,859.6" stroke-width="3.38"/>
<path d="M2495.8,852.8 L2495.4,879.9" stroke-width="2.99"/>
<path d="M2495,864 L2488.6,873.5" stroke-width="3.9"/>
<path d="M2501.8,853.6 L2506.2,857.2" stroke-width="3.38"/>
<path d="M2500.2,859.6 L2505.4,862.4" stroke-width="3.38"/>
<path d="M2499.8,870.7 L2519,862.8" stroke-width="2.99"/>
<path d="M2511.8,848 L2511.2,886.3" stroke-width="2.99"/>
<path d="M2535.7,853.2 L2536.9,858.4" stroke-width="3.9"/>
<path d="M2540.5,850.8 L2546.1,848 L2550.9,851.2 L2549.3,855.2" stroke-width="3.9"/>
<path d="M2529.3,871.9 L2531.7,864.7 L2539.7,861.6 L2551.7,860.8 L2555.7,862.8" stroke-width="3.9"/>
<path d="M2539.7,867.1 L2550.1,866.3 L2542.9,871.9" stroke-width="3.9"/>
<path d="M2542.9,871.9 L2547.7,876.7 L2546.1,884.7 L2540.5,881.5" stroke-width="3.64"/>
<path d="M2535.7,877.5 L2551.7,873.5" stroke-width="3.64"/>
<path d="M2573.9,860.6 L2572.6,869.4 L2572.6,877.8 L2575.1,882.4" stroke-width="3.38"/>
<path d="M2573.9,855.5 L2579.7,852.6 L2581,856 L2578.1,867.3" stroke-width="3.9"/>
<path d="M2587.3,850.5 L2591.9,852.6" stroke-width="3.9"/>
<path d="M2582.7,857.6 L2589.4,856 L2599.9,856.4 L2597.8,859.7 L2586.1,863.5" stroke-width="3.9"/>
<path d="M2582.7,869.4 L2593.6,867.3" stroke-width="4.55"/>
<path d="M2593.2,871.9 L2579.7,879.9" stroke-width="3.64"/>
<path d="M2591.9,871.1 L2589,878.7 L2591.9,882 L2602,881.6 L2602.9,873.6" stroke-width="3.9"/>
<path d="M2628.5,847.6 L2625.5,856.8 L2623.9,869.4 L2624.3,881.2 L2626,885.8" stroke-width="4.55"/>
<path d="M2628.9,848 L2635.6,856 L2642.4,861" stroke-width="3.25"/>
<path d="M2608.3,870.7 L2616.7,869.4 L2627.2,864.4 L2642.4,861" stroke-width="5.2"/>
<path d="M2626.4,876.1 L2631.4,871.9 L2636.5,873.6 L2635.6,877.8 L2631.4,882 L2627.2,883.3 L2635.6,883.7" stroke-width="4.55"/>
<path d="M2666.9,848.2 L2665.3,858 L2657.1,863.8" stroke-width="3.9"/>
<path d="M2658.8,852.3 L2663.7,854.7" stroke-width="3.25"/>
<path d="M2675.1,850.7 L2678.4,852.3 L2674.3,855.6" stroke-width="3.9"/>
<path d="M2671.8,859.7 L2678.4,859.7" stroke-width="3.25"/>
<path d="M2667.8,858 L2653,873.6" stroke-width="3.9"/>
<path d="M2667.8,860.5 L2679.2,866.2 L2689.1,869.9" stroke-width="3.9"/>
<path d="M2663.7,871.1 L2662.8,885.1" stroke-width="3.25"/>
<path d="M2663.7,871.1 L2673.5,871.1 L2674.3,887.5" stroke-width="3.25"/>
<path d="M2665.3,876 L2671.8,876" stroke-width="2.6"/>
<path d="M2665.3,881 L2671.8,881" stroke-width="2.6"/>
<path d="M2692.3,861.3 L2701.3,862.9 L2712.8,856.4" stroke-width="3.9"/>
<path d="M2705.4,849.8 L2704.6,882.6" stroke-width="3.9"/>
<path d="M2704.6,864.6 L2698.9,873.6" stroke-width="3.9"/>
<path d="M2716.1,849.8 L2711.2,862.9 L2712.8,885.1" stroke-width="3.25"/>
<path d="M2714.5,853.1 L2723.5,854.7" stroke-width="3.9"/>
<path d="M2714.5,861.3 L2723.5,861.3" stroke-width="3.12"/>
<path d="M2714.5,867 L2723.5,867" stroke-width="3.12"/>
<path d="M2714.5,872.8 L2723.5,872.8" stroke-width="3.12"/>
<path d="M2714.5,878.5 L2726,879" stroke-width="3.64"/>
<path d="M2717.7,856.4 L2717.7,879.3" stroke-width="3.12"/>
<path d="M2739,857.2 L2750.5,852.3" stroke-width="3.9"/>
<path d="M2740.7,860.5 L2739,878.5" stroke-width="3.38"/>
<path d="M2740.7,861.3 L2748,861.3 L2748,868.7 L2741.5,869.5" stroke-width="3.38"/>
<path d="M2764.4,852.3 L2755.4,858 L2754.6,876.9" stroke-width="3.9"/>
<path d="M2755.4,862.1 L2770.2,863.8" stroke-width="3.9"/>
<path d="M2763.6,862.9 L2763.2,885.9" stroke-width="3.38"/>
</g>
<text x="12.5" y="1667.2" font-family='"Liberation Sans", sans-serif' font-size="50.5" fill="#000" text-anchor="start" font-weight="bold">B</text>
<text x="711.1" y="1666.8" font-family='"Liberation Sans", sans-serif' font-size="50.5" fill="#000" text-anchor="start" font-weight="bold">C</text>
<text x="1397" y="1668.8" font-family='"Liberation Sans", sans-serif' font-size="50.5" fill="#000" text-anchor="start" font-weight="bold">D</text>
<text x="2107.7" y="1668.8" font-family='"Liberation Sans", sans-serif' font-size="50.5" fill="#000" text-anchor="start" font-weight="bold">E</text>
</svg></body></html>
